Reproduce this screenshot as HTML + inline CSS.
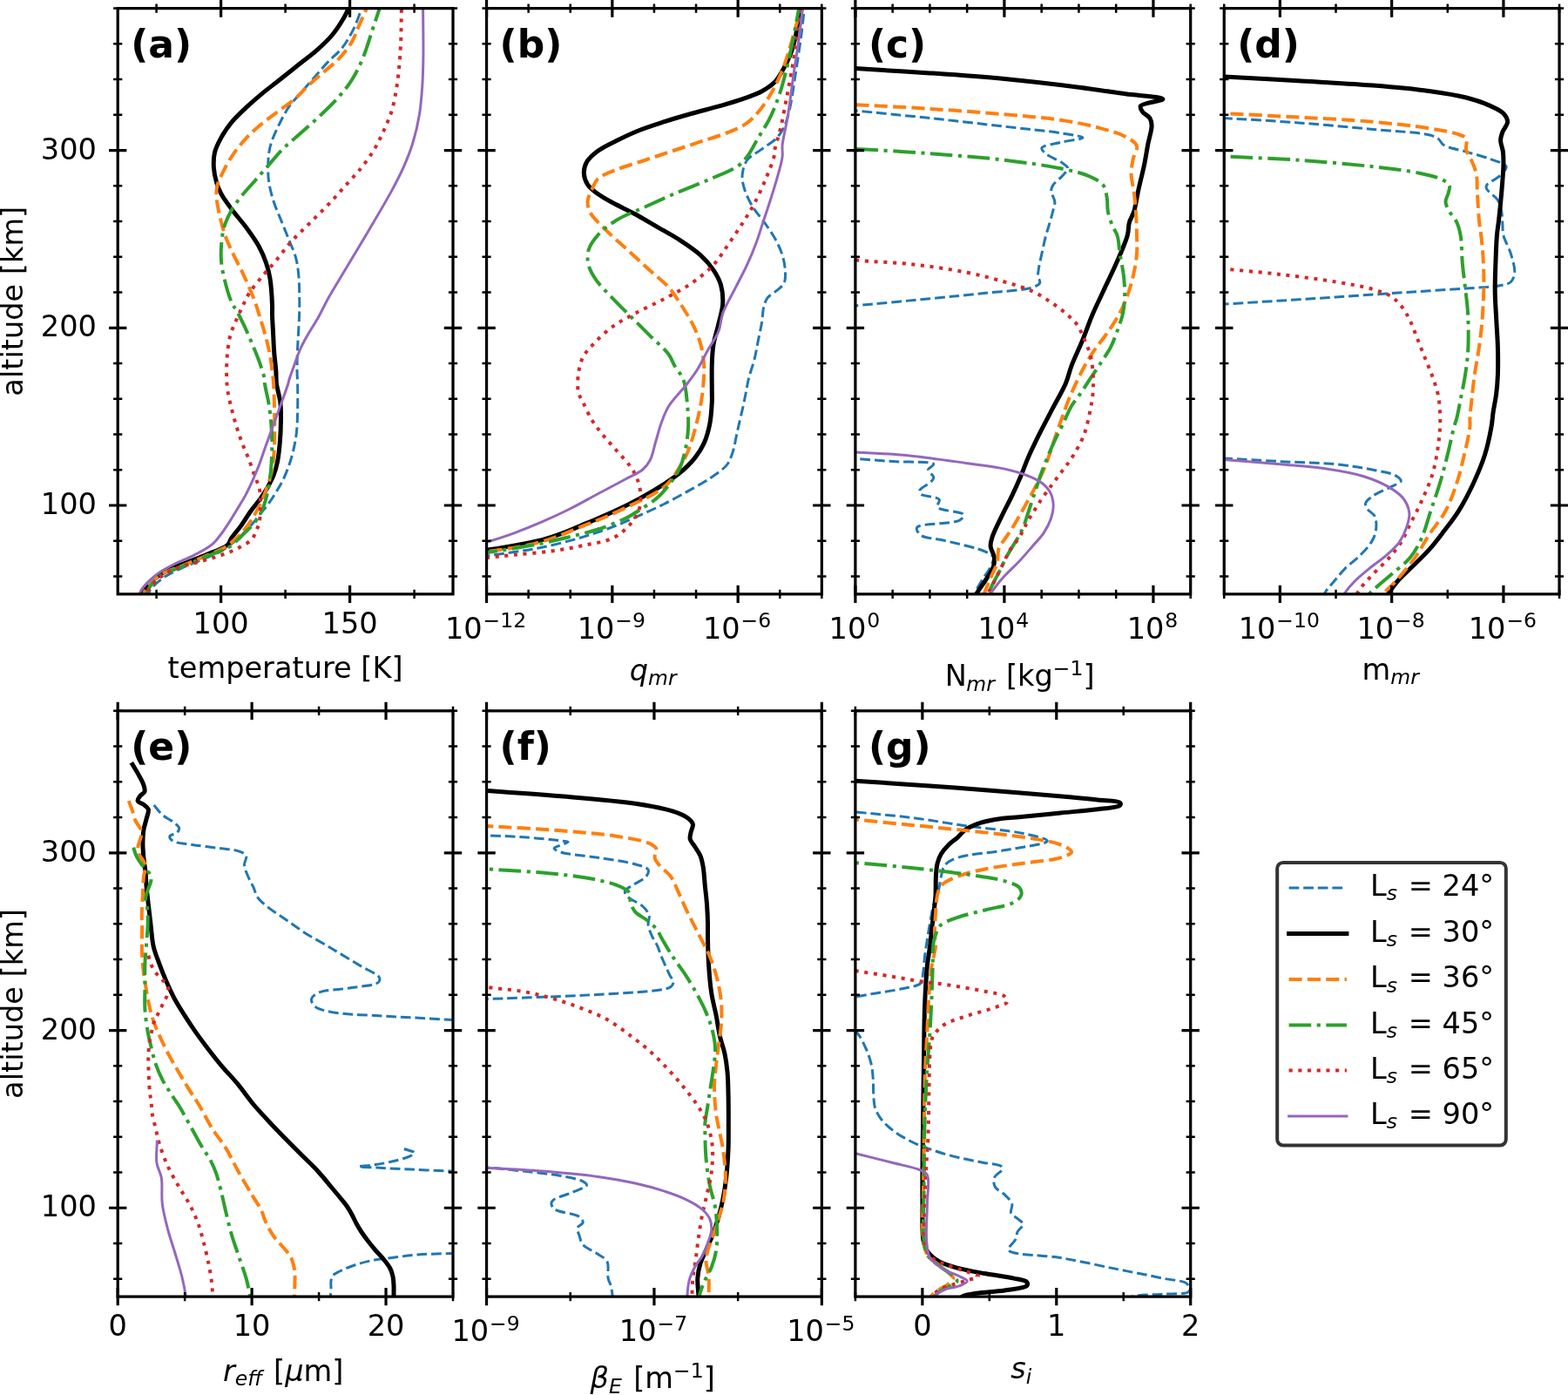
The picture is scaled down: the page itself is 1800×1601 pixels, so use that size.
<!DOCTYPE html><html><head><meta charset="utf-8"><title>Cloud profiles</title>
<style>html,body{margin:0;padding:0;background:#fff;overflow:hidden}svg{display:block}text{fill:#000}</style></head><body>
<svg xmlns="http://www.w3.org/2000/svg" width="1800" height="1601" viewBox="0 0 1800 1601">
<rect x="0" y="0" width="1800" height="1601" fill="#fff"/>
<g font-family="&quot;DejaVu Sans&quot;, &quot;Liberation Sans&quot;, sans-serif" font-size="33.6">
<defs>
<clipPath id="ca"><rect x="135.2" y="9.6" width="384.8" height="672.25"/></clipPath>
<clipPath id="cb"><rect x="558.55" y="9.6" width="384.8" height="672.25"/></clipPath>
<clipPath id="cc"><rect x="981.9" y="9.6" width="384.8" height="672.25"/></clipPath>
<clipPath id="cd"><rect x="1405.25" y="9.6" width="384.8" height="672.25"/></clipPath>
<clipPath id="ce"><rect x="135.2" y="815.85" width="384.8" height="672.25"/></clipPath>
<clipPath id="cf"><rect x="558.55" y="815.85" width="384.8" height="672.25"/></clipPath>
<clipPath id="cg"><rect x="981.9" y="815.85" width="384.8" height="672.25"/></clipPath>
</defs>
<g clip-path="url(#ca)" fill="none" stroke-linejoin="round">
<path d="M419.2 0C417.73 3.63 416.51 6.64 414.8 10.9C412.38 16.94 409.64 25.64 406.1 32.8C402.42 40.25 398.16 48.11 393 54.7C387.93 61.18 381.04 66.19 375.5 72.1C370.12 77.83 365.3 83.77 360.2 89.6C355.1 95.43 349.79 101.45 344.9 107.1C340.35 112.36 335.73 116.76 331.8 122.4C327.64 128.37 324.11 135.46 320.8 142.1C317.56 148.59 314.16 155.82 312.1 161.8C310.47 166.54 309.54 170.18 308.8 174.9C307.96 180.28 307.7 186.57 307.7 192.4C307.7 198.23 307.85 203.79 308.8 209.9C309.88 216.82 311.97 224.5 314.3 231.7C316.68 239.07 320.08 246.3 323 253.6C325.92 260.9 328.99 268.39 331.8 275.5C334.45 282.21 337.58 288.46 339.4 295.1C341.18 301.57 341.96 307.37 342.7 314.8C343.65 324.32 343.72 339 343.8 347.6C343.85 353.18 343.77 356.3 343.6 361.4C343.39 367.76 342.87 375.67 342.5 382.8C342.13 389.93 341.65 397.06 341.4 404.2C341.15 411.33 340.93 419.17 341 425.6C341.06 430.87 341.48 434.19 341.6 440C341.78 448.88 341.87 463.6 341.6 473.7C341.38 481.96 341.16 489.26 340.4 496.2C339.74 502.26 338.81 507.5 337.6 513.1C336.38 518.76 335.01 524.17 333.1 530C330.97 536.49 328.17 543.98 325.2 550.2C322.48 555.9 319.29 560.99 316.2 566C313.28 570.73 310.4 575.17 307.2 579.5C304.03 583.8 300.27 587.97 297.1 591.9C294.24 595.43 292.32 598.29 289 602C284.46 607.07 277.79 614 271.9 619.1C266.37 623.89 261.18 628.12 254.8 631.9C247.79 636.06 239.34 639.1 231.3 642.6C222.95 646.24 213.46 649.5 205.6 653.3C198.6 656.68 192.05 659.65 186.3 664C180.68 668.25 173.86 673.96 171.4 679C169.62 682.65 170.47 686.33 170 690" stroke="#1f77b4" stroke-width="3.0" stroke-dasharray="11.7 4.9"/>
<path d="M404.5 0C403 3.33 401.57 6.68 400 10C398.41 13.35 397.23 16.18 395 20C391.72 25.61 386.59 33.85 381.5 40C376.45 46.11 370.76 51.31 364.6 56.8C357.92 62.76 350 68.47 342.7 74.3C335.4 80.13 327.91 86.18 320.8 91.8C314.1 97.09 307.48 101.91 301.2 107.1C295.13 112.12 289.44 117.03 283.7 122.4C277.77 127.94 271.25 133.82 266.2 139.9C261.53 145.53 257.54 151.41 254.2 157.4C251.03 163.09 247.95 168.93 246.5 174.9C245.11 180.61 245.04 186.59 245.4 192.4C245.76 198.26 247.1 204.57 248.7 209.9C250.13 214.66 251.72 218.45 254.2 223C257.23 228.56 261.7 234.43 266.2 240.5C271.37 247.48 278.43 255.19 283.7 262.4C288.54 269.01 293.11 275.29 296.8 282C300.32 288.41 303.28 295.23 305.5 301.7C307.53 307.62 308.78 312.51 309.9 319.2C311.36 327.93 312.17 342.02 312.5 349.8C312.7 354.58 312.39 356.95 312.5 361.4C312.66 367.45 313.23 375.67 313.6 382.8C313.97 389.93 314.17 397.07 314.7 404.2C315.23 411.34 316.35 419.17 316.8 425.6C317.17 430.87 316.76 434.69 317.4 440C318.2 446.69 321.07 454.96 321.9 462.5C322.72 469.96 322.5 477.5 322.4 485C322.3 492.5 321.95 500.01 321.3 507.5C320.65 515.01 319.88 523.22 318.5 530C317.32 535.75 315.94 540.75 314 545.7C312.14 550.46 309.66 554.85 307.2 559.2C304.78 563.48 302.36 567.37 299.4 571.6C296.08 576.35 291.77 581.08 288.1 586.2C284.26 591.56 280.74 597.74 276.9 603.1C273.23 608.22 268.39 613.5 265.6 617.7C263.66 620.62 263.83 623.09 261.2 625.5C256.73 629.6 245.39 632.91 237.7 636.2C230.44 639.31 223.44 641.95 216.3 644.8C209.17 647.65 201.49 649.96 194.9 653.3C188.73 656.42 182.65 660.14 177.8 664C173.6 667.35 169.76 671.47 167.1 674.7C165.2 677.01 163.81 678.68 162.8 681.1C161.7 683.73 161.6 687.03 161 690" stroke="#000000" stroke-width="5.0" stroke-linecap="square"/>
<path d="M425.1 0C420.93 9.47 416.39 19.8 412.6 28.4C409.44 35.57 407.69 41.76 403.9 48.1C399.83 54.93 394.18 61.89 388.6 67.8C383.21 73.51 376.93 78 371.1 83.1C365.27 88.2 359.15 93.21 353.6 98.4C348.24 103.41 343.75 108.98 338.3 113.7C332.82 118.45 326.63 122.43 320.8 126.8C314.97 131.17 309.19 135.08 303.3 139.9C296.84 145.19 289.8 150.96 283.7 157.4C277.4 164.05 271.22 171.79 266.2 179.3C261.47 186.38 257.2 194.65 254.2 201.1C251.93 205.96 250 209.83 249.1 214.3C248.23 218.6 248.32 222.4 248.7 227.4C249.22 234.22 251.24 243.63 253.1 251.4C254.9 258.92 257 266.29 259.6 273.3C262.12 280.1 265.24 286.22 268.4 292.9C271.77 300.03 275.95 307.66 279.3 314.8C282.45 321.5 285.63 328.88 288 334.5C289.75 338.65 290.94 341.39 292.4 345.4C294.14 350.2 295.81 355.67 297.6 361.4C299.66 368 302.04 375.64 304 382.8C305.94 389.91 307.88 397.03 309.3 404.2C310.71 411.3 311.68 419.16 312.5 425.6C313.17 430.87 313.6 434.19 314 440C314.61 448.87 314.92 462.46 315.1 473.7C315.28 484.96 315.52 496.76 315.1 507.5C314.72 517.31 314.11 527.79 312.9 535.6C312.02 541.3 310.84 545.46 309.5 550.2C308.2 554.82 306.84 558.92 305 563.7C302.84 569.32 299.98 575.97 297.1 581.7C294.33 587.21 291.45 592.45 288.1 597.5C284.73 602.58 280 608.61 276.9 612.1C274.99 614.26 274 615.11 271.9 617C268.66 619.92 264.27 624.37 259.1 627.6C252.64 631.64 243.55 634.79 235.5 638.3C227.17 641.93 218.06 645.65 209.9 649C202.46 652.05 194.82 654.14 188.5 657.6C182.85 660.69 177.4 664.37 173.5 668.3C170.22 671.61 167.58 675.23 166 679C164.54 682.49 164.67 686.33 164 690" stroke="#ff7f0e" stroke-width="4.0" stroke-dasharray="15.1 6.2"/>
<path d="M439 0C435.33 10.93 431.67 21.87 428 32.8C424.33 43.73 421.23 55.42 417 65.6C413.11 74.97 408.87 83.91 403.9 91.8C399.31 99.08 394.39 104.94 388.6 111.5C382.15 118.81 374.09 126.4 366.7 133.4C359.51 140.21 351.99 146.66 344.9 153C338.18 159.01 331.4 164.3 325.2 170.5C319 176.7 313.33 183.82 307.7 190.2C302.42 196.2 297.5 201.87 292.4 207.7C287.3 213.53 281.64 219.45 277.1 225.2C273.02 230.37 269.4 234.9 266.2 240.5C262.77 246.5 259.4 253.5 257.4 260.2C255.47 266.64 254.75 273.14 254.2 279.9C253.63 286.96 253.43 294.14 254.2 301.7C255.05 310.07 257.43 319.85 259.6 327.9C261.51 335 263.77 342.32 266.2 347.6C267.98 351.45 269.88 353.43 271.9 357.1C274.56 361.93 277.71 368.29 280.5 374.2C283.42 380.4 286.21 386.88 289 393.5C291.92 400.43 295.09 407.71 297.6 414.9C300.07 421.98 303.44 432.08 304 436.3C304.23 438.02 303.75 438.26 303.9 440C304.27 444.34 307.18 454.98 308.4 462.5C309.61 469.98 310.55 477.49 311.2 485C311.85 492.49 312.22 500 312.3 507.5C312.38 515 312.17 522.51 311.7 530C311.23 537.51 310.53 545.56 309.5 552.5C308.6 558.56 307.59 563.82 306.1 569.4C304.59 575.06 302.96 580.92 300.5 586.2C298.08 591.41 294.97 596.52 291.5 600.9C288.17 605.11 283.47 608.82 280.2 612.1C277.67 614.64 276.02 616.55 273.5 618.9C270.51 621.68 267.74 624.87 263.3 627.6C256.92 631.52 246.24 634.74 237.7 638.3C229.14 641.87 220.18 645.65 212 649C204.55 652.05 196.68 654.4 190.6 657.6C185.63 660.21 181.36 662.54 177.8 666.1C174.22 669.67 170.77 674.68 169.2 679C167.87 682.65 168.4 686.33 168 690" stroke="#2ca02c" stroke-width="4.0" stroke-dasharray="25.6 6.5 4.1 6.5"/>
<path d="M461.1 0C461 5.1 460.91 9.42 460.8 15.3C460.65 23.31 460.67 34.24 460.3 43.7C459.93 53.17 459.43 62.64 458.6 72.1C457.77 81.6 456.81 91.33 455.3 100.6C453.85 109.55 452.28 118.56 449.8 126.8C447.47 134.53 444.33 141.48 441.1 148.7C437.81 156.05 434.44 163.38 430.2 170.5C425.76 177.96 420.39 185.45 414.9 192.4C409.45 199.31 403.42 205.38 397.4 212.1C391.04 219.2 384.53 226.71 377.7 233.9C370.68 241.28 363.09 248.5 355.8 255.8C348.52 263.1 340.69 270.23 334 277.7C327.64 284.81 322.21 292.69 316.5 299.5C311.3 305.71 306.21 310.92 301.2 317C296.01 323.3 289.74 330.63 285.9 336.7C282.96 341.36 281.53 345.2 279.3 349.8C276.87 354.83 274.29 360.11 271.9 365.7C269.31 371.76 266.19 378.4 264.4 384.9C262.66 391.24 261.92 397.58 261.2 404.2C260.45 411.13 260.11 418.49 260.1 425.6C260.09 432.66 260.2 439.68 261.1 446.7C262.01 453.84 263.9 461.09 265.6 468.1C267.27 474.98 269.14 481.67 271.2 488.4C273.27 495.17 275.53 502 278 508.6C280.43 515.1 283.46 521.29 285.9 527.7C288.32 534.06 290.53 541.38 292.6 546.9C294.2 551.15 296.06 554.41 297.1 558.1C298.06 561.5 298.51 564.73 298.8 568.2C299.1 571.85 298.92 575.19 298.8 579.5C298.64 585.26 298.9 594.18 297.7 599.7C296.82 603.76 295.15 606.64 293.7 609.9C292.31 613.03 291.75 616.09 289.2 618.9C285.57 622.91 278.13 626.63 271.9 629.8C265.29 633.16 258.02 635.71 250.5 638.3C242.39 641.09 233.36 643.3 224.8 645.8C216.26 648.3 206.68 649.94 199.2 653.3C192.7 656.22 187.12 659.69 182.1 664C177.13 668.27 171.6 674.07 169.2 679C167.39 682.71 167.73 686.33 167 690" stroke="#d62728" stroke-width="4.0" stroke-dasharray="4.1 6.6"/>
<path d="M485.6 0C485.6 3.33 485.59 5.32 485.6 10C485.63 21.04 486.13 49.5 485.9 65.6C485.73 77.97 485.53 87.48 484.8 98.4C484.07 109.35 483.3 120.32 481.5 131.2C479.68 142.19 477.09 153.57 473.9 164C470.86 173.92 467.06 183.22 463 192.4C459.01 201.41 455.26 208.5 449.8 218.6C442.02 232.97 428.29 255.95 420 270C414.19 279.84 410 286.67 405 295C400 303.33 394.81 311.93 390 320C385.5 327.56 381.15 334.53 377 342C372.82 349.53 369.03 357.87 365 365C361.36 371.43 357.4 377.03 354 383C350.76 388.7 347.69 394.01 345 400C342.16 406.31 339.8 413.67 337.5 420C335.44 425.67 332.84 432.66 331.8 436.2C331.3 437.89 331.42 438.22 330.9 440C329.61 444.39 325.74 454.83 323 462.5C320.12 470.55 317 478.96 314 487.2C311 495.46 307.88 503.93 305 512C302.26 519.68 299.59 527.98 297.1 534.5C295.15 539.6 293.65 543.14 291.5 548C288.91 553.84 285.83 560.81 282.5 567.1C279.08 573.55 274.99 579.95 271.2 586.2C267.49 592.31 264.23 598.16 260 604.2C255.37 610.82 250.55 618.68 244.3 624.2C238.05 629.72 229.89 633.43 222.5 637.3C215.32 641.07 207.42 643.76 200.6 647.2C194.37 650.35 188.36 653.38 183.1 657C178.25 660.33 173.77 664.06 170 667.9C166.57 671.39 163.21 675.01 161.2 678.9C159.38 682.42 159.07 686.3 158 690" stroke="#9467bd" stroke-width="3.0" stroke-linecap="square"/>
</g>
<g clip-path="url(#cb)" fill="none" stroke-linejoin="round">
<path d="M926.7 0C925.73 3.2 924.7 5.39 923.8 9.6C922.15 17.29 921.14 31.04 919.5 42.8C917.63 56.17 915.29 71.72 913.1 85.6C911.02 98.78 909.25 113.21 906.7 124.1C904.77 132.35 903.05 139.45 900.2 145.5C897.84 150.51 895.45 154.33 891.7 158.3C887.28 162.98 880.3 166.82 874.6 171.1C868.9 175.39 861.25 178.69 857.5 184C854.07 188.86 852.54 195.55 852.1 201.1C851.69 206.19 852.74 210.72 854.3 216C856.23 222.55 860.06 230.63 863.9 237.1C867.58 243.31 872.52 248.27 876.7 254.2C881.06 260.38 885.88 266.92 889.5 273.5C892.95 279.77 896.12 286.37 898.1 292.7C899.9 298.46 900.99 304.27 901.3 309.8C901.59 314.94 902.04 320.75 900.2 324.8C898.55 328.43 894.79 330.63 891.7 333.4C888.42 336.34 883.52 338.52 881 341.9C878.68 345.01 877.75 348.54 876.7 352.6C875.42 357.56 875.57 363.7 874.6 369.7C873.51 376.45 871.73 383.97 870.3 391.1C868.87 398.23 867.77 405.41 866 412.5C864.21 419.67 861.25 427.24 859.6 433.9C858.18 439.61 857.47 444.67 856.4 450C855.34 455.27 854.49 459.73 853.2 465.7C851.47 473.66 848.93 484.23 846.8 493.5C844.67 502.77 843.07 513.94 840.4 521.3C838.5 526.52 837.26 530.02 833.9 534.1C829.52 539.42 821.74 544.33 814.7 549.1C806.92 554.38 797.78 559.19 789 564.1C779.96 569.16 770.53 574.34 761.2 579C752 583.6 742.87 587.68 733.4 591.9C723.65 596.25 714.19 600.64 703.5 604.7C691.56 609.23 678.25 613.65 665 617.5C651.18 621.52 635.49 625.42 622.2 628.2C610.78 630.58 600.81 631.98 590.1 633.6C579.41 635.21 568.34 636.64 558 637.9C548.35 639.08 539.33 639.97 530 641" stroke="#1f77b4" stroke-width="3.0" stroke-dasharray="11.7 4.9"/>
<path d="M921.3 0C920.33 3.2 919.37 5.4 918.4 9.6C916.63 17.3 915.34 33.01 913.1 42.8C911.28 50.78 909.33 57.57 906.7 64.2C904.26 70.33 901.14 76.1 898.1 81.3C895.37 85.97 893.17 90.31 889.5 94.1C885.49 98.23 880.22 101.71 874.6 104.8C868.29 108.27 860.86 110.69 853.2 113.4C844.6 116.44 835.02 119.14 825.4 121.9C815.11 124.85 803.98 127.47 793.3 130.5C782.58 133.54 771.48 136.79 761.2 140.1C751.57 143.2 742.4 146.09 733.4 149.7C724.58 153.24 715.8 157.41 707.7 161.5C700.17 165.3 692.26 168.82 686.3 173.3C681.17 177.16 676.14 181.44 673.5 186.1C671.25 190.08 670.14 194.65 670.3 198.9C670.47 203.22 672.12 207.98 674.6 211.8C677.28 215.93 681.84 219.18 686.3 222.5C691.32 226.24 697.13 229.29 703.5 232.8C711.12 236.99 720.63 241.11 729.1 245.7C737.73 250.37 746.24 255.62 754.8 260.6C763.37 265.59 772.26 270.21 780.5 275.6C788.65 280.92 797.32 286.61 804 292.7C809.91 298.09 815 303.82 819 309.8C822.68 315.29 825.71 320.79 827.5 327C829.39 333.56 830.09 340.9 829.7 348.3C829.27 356.5 826.17 365.84 824.3 374C822.59 381.48 820.17 388.22 819 395.4C817.85 402.49 817.61 408.88 817.3 416.8C816.91 426.65 817.3 441.82 817.3 450C817.3 454.79 817.53 456.85 817.3 461.4C816.95 468.26 816.31 479.01 814.7 487.1C813.21 494.61 811.25 501.86 808.3 508.4C805.48 514.64 801.96 520.11 797.6 525.6C792.84 531.59 786.77 537.45 780.5 542.7C773.99 548.15 766.66 552.77 759.1 557.6C751.02 562.76 742.37 567.74 733.4 572.6C723.89 577.76 713.55 582.94 703.5 587.6C693.58 592.2 683.12 596.34 673.5 600.4C664.61 604.15 656.42 607.86 647.8 611.1C639.31 614.29 631.3 617.28 622.2 619.7C612.18 622.37 600.82 624.15 590.1 626.1C579.42 628.05 568.35 629.88 558 631.4C548.36 632.81 539.33 633.8 530 635" stroke="#000000" stroke-width="5.0" stroke-linecap="square"/>
<path d="M922.4 0C921.43 3.2 920.64 5.72 919.5 9.6C917.76 15.52 915.4 24.07 913.1 32.1C910.45 41.36 907.52 52.67 904.5 62C901.79 70.38 899.25 78.02 896 85.6C892.83 93 889.27 100.18 885.3 107C881.39 113.7 877.16 120.4 872.4 126.2C867.85 131.75 863.31 137 857.5 141.2C851.32 145.67 844.08 148.59 836.1 151.9C826.6 155.83 814.7 159.03 804 162.6C793.3 166.17 782.6 169.73 771.9 173.3C761.2 176.87 750.5 180.43 739.8 184C729.1 187.57 717.2 190.79 707.7 194.7C699.72 197.99 691 200.89 686.3 205.3C682.86 208.53 681.78 212.33 679.9 216.4C677.82 220.92 674.84 226.48 674.6 231.3C674.38 235.72 675.47 239.77 677.8 244.2C681.05 250.36 688.44 256.84 694.9 263.4C702.43 271.05 712.04 279.14 720.6 287C729.14 294.84 738.03 303.08 746.2 310.5C753.63 317.25 761.43 322.75 767.6 329.7C773.48 336.33 777.92 343.88 782.6 351.1C787.17 358.15 791.79 365.22 795.4 372.5C798.87 379.5 802 387.19 804 393.9C805.69 399.56 806.48 405.08 807.2 410C807.81 414.11 808.23 416.63 808.3 421.4C808.41 429.39 807.52 442.85 806.1 453.5C804.67 464.25 802.46 474.8 799.7 485.6C796.82 496.9 793.12 510.21 789 519.8C785.77 527.31 782.04 533.09 778.3 539C774.88 544.41 772 549.5 767.6 554C762.86 558.85 756.71 562.97 750.5 566.8C743.93 570.85 736.98 573.69 729.1 577.5C719.51 582.14 707.76 587.84 697 592.5C686.39 597.1 675.67 601.02 665 605.3C654.31 609.59 643.71 614.61 632.9 618.2C622.31 621.72 612.34 624.3 600.8 626.7C587.63 629.44 572.27 631.03 558 633.2" stroke="#ff7f0e" stroke-width="4.0" stroke-dasharray="15.1 6.2"/>
<path d="M920.3 0C919.33 3.2 918.44 5.4 917.4 9.6C915.5 17.31 913.38 31.34 911 42.8C908.43 55.18 905.46 69.32 902.4 81.3C899.68 91.94 897.13 101.7 893.8 111.2C890.65 120.19 887.15 128.86 883.1 136.9C879.27 144.51 874.56 151.14 870.3 158.3C866.02 165.5 861.96 174.25 857.5 180C854.05 184.46 851.72 187.25 846.8 190.7C839.27 195.98 825.8 200.84 814.7 205.7C803.01 210.82 790.56 215.35 778.3 220.6C765.6 226.03 752.03 232.23 739.8 237.8C728.59 242.9 717.02 246.93 707.7 252.7C699.5 257.78 691.83 263.58 686.3 269.8C681.55 275.15 677.31 281.02 675.6 287C674.03 292.49 674.28 298.55 675.6 304.1C676.99 309.97 680.27 315.45 684.2 321.2C689.03 328.26 696.82 335.55 703.5 342.6C710.34 349.82 717.68 356.88 724.8 364C731.92 371.12 739.07 378.19 746.2 385.3C753.34 392.42 762.84 400.23 767.6 406.7C770.81 411.07 771.51 414.51 774 418.9C777.04 424.25 782.21 429.61 784.7 436.4C787.61 444.35 788.1 455.1 789 464.2C789.86 472.89 790.45 481.27 790.1 489.8C789.75 498.37 788.6 507.39 786.9 515.5C785.32 523.03 783.46 530.35 780.5 536.9C777.68 543.13 773.92 548.46 769.8 554C765.42 559.88 760.09 566.31 754.8 571.1C750.04 575.41 745.32 578.18 739.8 581.8C733.37 586.02 726.44 590.71 718.4 594.7C708.95 599.39 697.1 603.93 686.3 607.5C675.73 611 665 613.33 654.3 616C643.63 618.66 633.7 621.15 622.2 623.5C608.99 626.2 591.23 629.08 579.4 631C571.05 632.36 565.13 633.13 558 634.2" stroke="#2ca02c" stroke-width="4.0" stroke-dasharray="25.6 6.5 4.1 6.5"/>
<path d="M923.5 0C922.53 3.2 921.57 5.4 920.6 9.6C918.82 17.3 917.09 31.33 915.2 42.8C913.17 55.16 911 68.86 908.8 81.3C906.72 93.05 904.57 104.29 902.4 115.5C900.3 126.38 898.34 137.77 896 147.6C893.98 156.08 890.66 165.1 889.5 171.1C888.8 174.74 889.38 176.33 888.5 180C886.97 186.42 882.52 197.04 878.9 205.7C875.07 214.86 870.53 224.95 866 233.5C861.92 241.21 857.88 247.51 853.2 254.9C848 263.11 841.88 272.19 836.1 280.5C830.48 288.58 825.81 296.82 819 304.1C811.71 311.9 802.5 319.12 793.3 325.5C783.95 331.98 773.71 337.04 763.3 342.6C752.35 348.45 739.59 354.01 729.1 359.7C719.86 364.71 711.38 368.94 703.5 374.7C695.74 380.37 688.12 387.53 682.1 393.9C677 399.29 672.24 404.02 669.2 410C666.19 415.93 664.78 422.94 663.9 429.6C663.01 436.27 662.64 444.3 663.9 450C664.89 454.48 667.09 457.02 669.2 461.4C672.11 467.44 675.83 476.24 679.9 482.8C683.75 489.01 688.24 494.28 692.8 499.9C697.49 505.68 702.72 511.3 707.7 517C712.69 522.7 718.61 528.38 722.7 534.1C726.26 539.09 729.19 543.61 731.3 549.1C733.55 554.95 735.21 562.05 735.5 568.3C735.78 574.17 735.35 579.98 733.4 585.5C731.29 591.45 727.35 597.46 722.7 602.6C717.6 608.24 711.3 613.71 703.5 617.5C694.1 622.07 680.84 623.62 669.2 626.1C657.32 628.63 645.53 630.75 632.9 632.5C619.25 634.39 603.34 635.47 590.1 636.8C578.63 637.95 568.34 639.12 558 640C548.35 640.83 539.33 641.33 530 642" stroke="#d62728" stroke-width="4.0" stroke-dasharray="4.1 6.6"/>
<path d="M924.5 0C923.53 3.2 922.5 5.39 921.6 9.6C919.96 17.29 919.02 31.04 917.4 42.8C915.55 56.17 913.1 70.99 911 85.6C908.8 100.89 906.84 118.2 904.5 132.6C902.49 144.93 898.91 158.03 898.1 166.8C897.6 172.2 898.72 174.92 898.1 180C897.22 187.2 894.13 197 891.7 205.7C889.16 214.82 885.8 225.1 883.1 233.5C880.85 240.5 878.98 245.83 876.7 252.7C874.06 260.64 871.37 269.89 868.2 278.4C864.98 287.03 861.4 295.61 857.5 304.1C853.54 312.71 849.04 320.82 844.6 329.7C839.8 339.3 833 350.49 829.7 359.7C827.1 366.96 827.62 373.29 825 380C822.11 387.4 816.63 394.57 812.5 402C808.3 409.56 804.42 418.05 800 425C796.03 431.24 792.24 435.9 787.5 442C781.72 449.45 772.49 458.34 767.6 466.3C763.59 472.83 761.56 478.92 759.1 485.6C756.57 492.47 754.85 499.88 752.7 507C750.55 514.11 749.18 522.63 746.2 528.3C743.87 532.74 741.52 535.77 737.7 539C732.85 543.11 725.67 545.75 718.4 549.7C709.07 554.77 696.99 561.08 686.3 566.8C675.62 572.52 665.05 578.62 654.3 584C643.69 589.31 632.96 594.24 622.2 598.9C611.56 603.5 600.86 607.85 590.1 611.8C579.46 615.71 568.36 619.2 558 622.5C548.37 625.57 539.33 628.17 530 631" stroke="#9467bd" stroke-width="3.0" stroke-linecap="square"/>
</g>
<g clip-path="url(#cc)" fill="none" stroke-linejoin="round">
<path d="M940 123C954 124.33 965.54 125.39 982 127C1005.51 129.3 1039.08 132.57 1067.6 135.6C1096.12 138.63 1126.64 142.17 1153.1 145.2C1176.03 147.83 1200.76 150.03 1217.3 152.7C1227.84 154.4 1243 156.22 1243 158C1243 159.78 1225.43 161.33 1217.3 163.4C1209.8 165.31 1197 166.72 1195.9 169.8C1195.25 171.61 1197.89 174.07 1200.2 176.2C1204.1 179.79 1214.85 183.49 1219.4 186.9C1222.33 189.1 1225.73 190.93 1225.9 193.3C1226.09 195.88 1221.95 198.97 1219.4 201.9C1216.38 205.37 1210.76 209.25 1208.7 212.6C1207.33 214.83 1206.59 216.5 1206.6 219C1206.61 222.54 1210.65 227.69 1210.9 231.8C1211.12 235.49 1209.63 238.65 1208.7 242.5C1207.59 247.1 1205.93 252.54 1204.5 257.5C1203.09 262.4 1201.55 266.87 1200.2 272.1C1198.66 278.06 1197.22 285.37 1195.9 291.4C1194.74 296.71 1193.42 301.8 1192.7 306.4C1192.09 310.25 1191.3 313.89 1191.6 317.1C1191.85 319.82 1194.57 322.45 1193.8 324.5C1192.91 326.85 1189.54 328.36 1185.2 329.9C1175.2 333.44 1150.35 334.25 1131.7 336.3C1111.31 338.54 1090.51 340.46 1067.6 342.7C1041.13 345.29 1003.65 348.81 982 350.9C968.76 352.18 957.43 345.81 950 354C932.91 372.83 932.88 505.55 950 524C957.44 532.01 970.56 525.54 982 526.4C995.23 527.39 1010.2 528.56 1024.8 529.6C1040.1 530.69 1070.41 529.09 1071.8 532.8C1072.41 534.43 1065.57 536.83 1065.4 539.2C1065.21 541.78 1071.68 545.24 1071.8 547.8C1071.89 549.74 1070.28 551.25 1068.6 553.1C1065.91 556.08 1056.82 559.81 1055.8 562.7C1055.26 564.22 1055.67 565.72 1056.9 567C1059.67 569.88 1076.26 569.79 1078.3 573.4C1079.59 575.68 1074.72 579.6 1076.1 582C1078.68 586.49 1104.68 586.67 1106.1 590.5C1106.81 592.42 1104.66 595.13 1101.8 597C1094.56 601.73 1055.33 600.1 1052.6 605.5C1051.4 607.87 1054.02 611.83 1056.9 614.1C1061.87 618.01 1074.25 617.88 1084.7 620.5C1098.35 623.93 1122.54 628.84 1131.7 633.3C1136 635.39 1139.38 636.77 1140.3 639.7C1141.34 643 1138.03 648.44 1136 652.6C1133.84 657.02 1130.15 660.98 1127.5 665.4C1124.81 669.88 1121.79 674.87 1120 679.3C1118.5 683.01 1118 686.43 1117 690" stroke="#1f77b4" stroke-width="3.0" stroke-dasharray="11.7 4.9"/>
<path d="M940 76.3C954 77.07 965.54 77.64 982 78.6C1005.51 79.97 1039.08 81.9 1067.6 83.9C1096.12 85.9 1124.62 87.87 1153.1 90.6C1181.65 93.34 1213.52 97.11 1238.7 100.3C1258.64 102.83 1275.37 105.46 1292.2 107.8C1307.23 109.89 1334.67 110.94 1334.9 113.7C1335.08 115.87 1311.22 117.97 1309.3 121.7C1308.34 123.57 1310.05 126.06 1311.4 128.1C1313.16 130.76 1318.24 132.71 1320 135.6C1321.55 138.13 1322.02 140.61 1322.1 144.1C1322.22 149.6 1319.19 158.19 1317.8 165.5C1316.35 173.14 1315.28 180.86 1313.6 189C1311.77 197.9 1309.1 207.7 1307.1 216.8C1305.18 225.52 1303.98 235.5 1301.8 242.5C1300.22 247.59 1297.65 250.8 1296.4 255.3C1295.11 259.95 1295.83 264.26 1294.3 270C1291.97 278.75 1286.1 291.47 1281.5 302.1C1276.84 312.87 1271.29 323.88 1266.5 334.2C1262.05 343.79 1257.64 352.67 1253.7 362C1249.81 371.2 1246.83 380.4 1243 389.8C1238.99 399.62 1233.55 410.63 1230.1 419.7C1227.31 427.05 1226.44 432.82 1223.4 440C1219.7 448.75 1213.59 458.73 1208.7 468.1C1203.82 477.46 1198.8 486.79 1194.1 496.2C1189.43 505.55 1184.52 515.47 1180.6 524.4C1177.15 532.26 1174.77 539.43 1171.6 546.9C1168.4 554.43 1165.05 561.94 1161.5 569.4C1157.92 576.94 1153.88 584.19 1150.2 591.9C1146.38 599.9 1141.06 610.04 1139 616.6C1137.72 620.68 1136.85 623.31 1137.1 626.9C1137.39 630.97 1140.94 635.58 1141.4 639.7C1141.81 643.38 1141.5 646.67 1140.3 650.4C1138.78 655.13 1134.82 660.37 1131.7 665.4C1128.41 670.7 1123.59 676.8 1121 681.4C1119.18 684.63 1118.33 687.13 1117 690" stroke="#000000" stroke-width="5.0" stroke-linecap="square"/>
<path d="M940 118.5C954 119.07 965.54 119.41 982 120.2C1005.51 121.32 1039.08 123.05 1067.6 124.9C1096.12 126.75 1126.65 128.99 1153.1 131.3C1176.04 133.3 1198.13 134.83 1217.3 137.7C1233.07 140.06 1246.96 142.8 1260.1 146.3C1271.67 149.38 1284.21 152.57 1292.2 157C1297.8 160.11 1303.65 163.24 1305 167.6C1306.31 171.82 1301.76 177.39 1300.7 182.6C1299.59 188.07 1298.52 193.69 1298.6 199.7C1298.69 206.44 1300.92 213.96 1301.8 221.1C1302.68 228.22 1303.38 234.91 1303.9 242.5C1304.49 251.08 1304.83 261.41 1305 270C1305.15 277.58 1305.62 283.97 1305 291.4C1304.32 299.6 1302.74 308.43 1300.7 317.1C1298.54 326.25 1295.61 336.37 1292.2 344.9C1289.11 352.64 1285.47 359.48 1281.5 366.3C1277.59 373 1272.97 379.34 1268.6 385.5C1264.4 391.42 1259.91 396.47 1255.8 402.6C1251.36 409.23 1247.18 416.19 1243 424C1238.22 432.94 1233 444.14 1229 453.5C1225.48 461.73 1222.75 469.63 1220 477.1C1217.53 483.79 1215.42 489.72 1213.2 496.2C1210.92 502.85 1208.78 509.85 1206.5 516.5C1204.28 522.98 1202.19 529.48 1199.7 535.6C1197.31 541.46 1194.77 546.74 1191.9 552.5C1188.81 558.72 1185.12 565.35 1181.7 571.6C1178.36 577.71 1175.08 583.53 1171.6 589.6C1167.99 595.89 1163.91 603.22 1160.4 608.7C1157.63 613.02 1154.9 616.43 1152.5 620C1150.39 623.15 1148.02 625.34 1146.7 629C1145.02 633.64 1146.07 640.69 1144.6 646.1C1143.17 651.37 1140.39 655.71 1138.1 661.1C1135.44 667.35 1131.83 676.06 1129.6 681.4C1128.15 684.87 1127.2 687.13 1126 690" stroke="#ff7f0e" stroke-width="4.0" stroke-dasharray="15.1 6.2"/>
<path d="M940 169C954 169.63 965.54 170.02 982 170.9C1005.51 172.16 1039.09 174.07 1067.6 176.2C1096.12 178.33 1126.68 180.57 1153.1 183.7C1176.07 186.42 1199.66 189.63 1217.3 193.3C1229.92 195.93 1240.6 198.07 1249.4 201.9C1256.25 204.88 1262.97 207.92 1266.5 212.6C1269.6 216.71 1269.92 222.48 1270.8 227.5C1271.67 232.45 1270.84 237.4 1271.8 242.5C1272.85 248.08 1275.18 254.68 1277.2 259.6C1278.83 263.57 1281.15 265.78 1282.5 270C1284.34 275.74 1284.52 283.95 1285.7 291.4C1287 299.58 1289.1 308.7 1290 317.1C1290.85 325.08 1291.33 333.17 1291.1 340.6C1290.89 347.33 1290.29 353.64 1289 359.8C1287.75 365.75 1285.73 371 1283.6 377C1281.19 383.76 1278.44 391.72 1275.1 398.3C1271.95 404.49 1268.09 409.64 1264.3 415.5C1260.25 421.75 1255.76 428.29 1251.5 434.7C1247.23 441.12 1242.62 448.38 1238.7 454C1235.58 458.48 1232.78 461.2 1230 465.9C1226.48 471.83 1223.29 480.42 1220 487.2C1216.96 493.47 1213.83 499.16 1211 505.2C1208.2 511.17 1205.67 516.99 1203.1 523.2C1200.4 529.74 1197.65 536.71 1195.2 543.5C1192.78 550.21 1190.75 556.96 1188.5 563.7C1186.25 570.46 1183.95 577.24 1181.7 584C1179.45 590.74 1177.34 598.51 1175 604.2C1173.2 608.58 1171.72 611.25 1169.4 615.5C1166.24 621.28 1161.17 628.66 1157.4 635.5C1153.59 642.42 1150.26 649.69 1146.7 656.8C1143.13 663.92 1138.3 672.01 1136 678.2C1134.36 682.61 1134 686.07 1133 690" stroke="#2ca02c" stroke-width="4.0" stroke-dasharray="25.6 6.5 4.1 6.5"/>
<path d="M940 292C954 294.13 966.48 296.64 982 298.4C1001.1 300.57 1024.85 300.81 1046.2 303.2C1067.62 305.6 1091.17 308.98 1110.3 312.8C1126.09 315.95 1139.93 319.66 1153.1 323.5C1164.64 326.86 1175.79 329.88 1185.2 334.2C1193.28 337.91 1199.97 342.56 1206.6 347C1212.73 351.11 1218.56 355.33 1223.7 359.8C1228.44 363.93 1233.08 367.95 1236.5 372.7C1239.78 377.25 1241.62 382.25 1244 387.6C1246.65 393.56 1249.72 400.2 1251.5 406.9C1253.32 413.75 1254.17 421.15 1254.7 428.3C1255.23 435.41 1255.23 442.59 1254.7 449.7C1254.17 456.85 1253.05 463.48 1251.5 471.1C1249.67 480.06 1247.67 490.68 1244 500C1240.23 509.57 1233.24 521.11 1229 527.7C1226.46 531.65 1224.45 533.7 1222.2 536.7C1219.95 539.7 1217.75 542.7 1215.5 545.7C1213.25 548.7 1210.84 551.78 1208.7 554.7C1206.72 557.4 1205.07 559.89 1203.1 562.6C1200.98 565.51 1198.49 568.56 1196.4 571.6C1194.36 574.56 1192.59 577.6 1190.7 580.6C1188.82 583.6 1186.97 586.6 1185.1 589.6C1183.23 592.6 1181.2 595.56 1179.5 598.6C1177.84 601.56 1176.62 604.53 1175 607.6C1173.27 610.89 1171.66 614.17 1169.4 617.7C1166.67 621.96 1162.66 626.03 1159.5 631.2C1155.73 637.38 1152.37 645.47 1148.8 652.6C1145.23 659.73 1140.9 668.74 1138.1 674C1136.43 677.13 1135.07 678.78 1133.9 681.4C1132.69 684.1 1131.97 687.13 1131 690" stroke="#d62728" stroke-width="4.0" stroke-dasharray="4.1 6.6"/>
<path d="M940 517C954 517.63 966.53 518.03 982 518.9C1001.14 519.97 1024.84 521.07 1046.2 523.2C1067.61 525.33 1091.09 528.99 1110.3 531.7C1126.01 533.92 1140.72 535.38 1153.1 538.1C1162.84 540.24 1171.22 542.62 1178.8 545.6C1185.21 548.12 1191.28 550.66 1195.9 554.2C1199.91 557.26 1203.29 560.72 1205.5 564.9C1207.79 569.22 1209.02 574.81 1209.2 579.8C1209.38 584.77 1208.26 589.76 1206.6 594.8C1204.73 600.45 1201.53 606.58 1198 611.9C1194.42 617.3 1189.65 621.75 1185.2 626.9C1180.42 632.43 1175.46 638.38 1170.2 644C1164.78 649.79 1158.03 655.69 1153.1 661.1C1149 665.6 1145.29 670.25 1142.4 674C1140.27 676.76 1138.5 678.74 1137.1 681.4C1135.7 684.07 1135.03 687.13 1134 690" stroke="#9467bd" stroke-width="3.0" stroke-linecap="square"/>
</g>
<g clip-path="url(#cd)" fill="none" stroke-linejoin="round">
<path d="M1370 134C1381.67 134.53 1390.77 134.83 1405 135.6C1427.26 136.8 1462.09 138.77 1490.6 140.9C1519.12 143.03 1549.64 145.92 1576.1 148.4C1599.04 150.55 1628.05 151.77 1640.3 154.8C1645.46 156.07 1647.99 157.02 1650.9 159.1C1653.61 161.04 1654.08 164.47 1657.4 166.6C1662.85 170.1 1674.37 171.49 1683.1 174.1C1692.19 176.82 1702.71 179.43 1710.9 182.6C1717.71 185.24 1728.11 187.47 1729.1 191.2C1729.9 194.21 1724.88 198.59 1721.6 201.9C1717.7 205.83 1708.22 209.46 1706.6 212.6C1705.83 214.1 1705.93 215.18 1706.6 216.8C1707.99 220.16 1716.53 225.05 1719.4 229.7C1721.87 233.71 1722.8 238.18 1723.7 242.5C1724.58 246.71 1724.45 250.88 1724.8 255.3C1725.18 260.03 1724.69 264.74 1725.9 270C1727.41 276.57 1732.26 284.17 1734.4 291.4C1736.49 298.44 1739.24 306.96 1738.7 312.8C1738.31 317.05 1737.04 321.01 1734.4 323.5C1731.54 326.19 1727.1 326.66 1721.6 327.8C1712.3 329.72 1697.57 329.93 1683.1 331C1664.43 332.39 1640.3 333.78 1618.9 335.2C1597.5 336.62 1576.09 338.07 1554.7 339.5C1533.32 340.93 1513.51 342.32 1490.6 343.8C1464.13 345.51 1425.02 347.72 1405 349.1C1394.18 349.85 1386.04 344.49 1380 351C1364.15 368.11 1364.15 506.89 1380 524C1386.04 530.51 1394.73 525.21 1405 525.9C1421.44 527 1447.81 528.45 1469.2 529.6C1490.57 530.75 1514.13 530.89 1533.3 532.8C1549.04 534.37 1563.69 536.73 1576.1 539.2C1585.81 541.13 1596.34 542.51 1601.8 545.6C1604.99 547.41 1608.45 550.01 1608.2 552C1607.91 554.33 1601.73 556.08 1597.5 558.4C1591.64 561.61 1581.39 565.26 1576.1 569.1C1572.34 571.83 1568.27 574.84 1567.6 577.7C1567.1 579.84 1568.39 581.97 1569.7 584.1C1571.46 586.97 1576.62 588.95 1578.3 592.7C1580.3 597.15 1580.18 604.6 1579.3 609.8C1578.51 614.47 1576.6 618.37 1574 622.6C1570.89 627.65 1565.89 632.76 1561.1 637.6C1555.96 642.79 1549.13 647.42 1544 652.6C1539.24 657.41 1535.13 662.8 1531.2 667.5C1527.74 671.64 1524.03 675.29 1521.6 679.3C1519.48 682.81 1518.53 686.43 1517 690" stroke="#1f77b4" stroke-width="3.0" stroke-dasharray="11.7 4.9"/>
<path d="M1370 86.5C1381.67 87.03 1390.77 87.38 1405 88.1C1427.26 89.22 1462.08 91.13 1490.6 92.8C1519.11 94.47 1549.66 95.96 1576.1 98.1C1599.05 99.95 1621.11 101.87 1640.3 104.5C1656.05 106.66 1670.76 108.86 1683.1 112C1692.83 114.47 1701.15 117.26 1708.7 120.6C1715.15 123.45 1722.24 126.34 1725.9 130.2C1728.59 133.04 1730.6 136.44 1730.6 139.8C1730.6 143.53 1726.15 147.79 1724.8 151.6C1723.63 154.89 1722.62 157.76 1722.6 161.2C1722.58 165.18 1724.84 169.62 1725.4 174.1C1725.99 178.86 1726 183.1 1725.9 189C1725.75 197.67 1724.6 210.41 1723.7 221.1C1722.8 231.81 1721.51 244.22 1720.5 253.2C1719.77 259.7 1718.96 263.49 1718.4 270C1717.63 278.97 1717.27 291.4 1716.9 302.1C1716.53 312.8 1716.07 323.5 1716.2 334.2C1716.33 344.9 1717.17 355.61 1717.7 366.3C1718.23 376.98 1719.12 387.62 1719.4 398.3C1719.68 408.99 1719.78 420.79 1719.4 430.4C1719.09 438.26 1718.58 444.69 1717.7 451.8C1716.82 458.95 1715.08 466.49 1714.1 473.2C1713.23 479.13 1713.16 483.54 1712 490C1710.39 499.02 1707.84 511.53 1704.5 522.1C1701.08 532.93 1696.52 543.63 1691.6 554.2C1686.55 565.04 1680.56 576.62 1674.5 586.3C1669.09 594.95 1663.19 602.21 1657.4 609.8C1651.78 617.17 1646.53 624.24 1640.3 631.2C1633.75 638.52 1625.41 646.12 1618.9 652.6C1613.46 658.02 1608.19 662.55 1603.9 667.5C1600.16 671.81 1597.11 676.38 1594.3 680.4C1591.92 683.8 1590.1 686.8 1588 690" stroke="#000000" stroke-width="5.0" stroke-linecap="square"/>
<path d="M1370 128.4C1381.67 129 1390.77 129.48 1405 130.2C1427.26 131.33 1462.08 132.9 1490.6 134.5C1519.11 136.1 1549.67 137.44 1576.1 139.8C1599.06 141.85 1622.62 144.51 1640.3 147.3C1652.88 149.29 1664.69 151.04 1672.4 153.7C1677.06 155.31 1681.29 156.15 1683.1 159.1C1684.97 162.14 1682.12 167.74 1683.1 171.9C1684.14 176.32 1687.59 180.29 1689.5 184.8C1691.51 189.53 1693.7 194.2 1694.8 199.7C1696.08 206.11 1695.44 213.25 1695.9 221.1C1696.46 230.72 1697.12 244.23 1698 253.2C1698.64 259.71 1699.52 264.06 1700.2 270C1700.97 276.7 1701.78 283.54 1702.3 291.4C1702.94 301.01 1703.4 312.8 1703.4 323.5C1703.4 334.2 1702.89 345.51 1702.3 355.6C1701.78 364.62 1701.11 372.85 1700.2 381.2C1699.33 389.24 1698.22 396.78 1697 404.8C1695.73 413.17 1693.93 421.67 1692.7 430.4C1691.42 439.46 1690.42 449.53 1689.5 458.2C1688.69 465.8 1687.69 473.73 1687.4 479.6C1687.2 483.68 1687.84 485.61 1687.4 490C1686.62 497.79 1683.39 511.44 1680.9 522.1C1678.39 532.84 1675.92 543.61 1672.4 554.2C1668.81 565.01 1664.89 576.27 1659.5 586.3C1654.17 596.22 1645.93 605.35 1640.3 614.1C1635.46 621.62 1631.96 628.88 1627.5 635.5C1623.37 641.64 1618.98 647.16 1614.6 652.6C1610.41 657.81 1606.15 662.79 1601.8 667.5C1597.61 672.03 1592.5 676.29 1589 680.4C1586.17 683.72 1584.33 686.8 1582 690" stroke="#ff7f0e" stroke-width="4.0" stroke-dasharray="15.1 6.2"/>
<path d="M1370 177.6C1381.67 178.2 1390.77 178.68 1405 179.4C1427.26 180.53 1462.09 181.73 1490.6 183.7C1519.13 185.67 1550.96 188.34 1576.1 191.2C1596.05 193.47 1615.09 195.61 1629.6 198.7C1639.81 200.87 1649.24 203.05 1655.3 206.1C1659.14 208.03 1662.66 209.9 1663.8 212.6C1664.82 215.01 1663.43 218.13 1662.8 221.1C1662.08 224.49 1659.35 228.26 1659.5 231.8C1659.65 235.39 1661.88 238.88 1663.8 242.5C1666.02 246.69 1670.25 250.68 1672.4 255.3C1674.56 259.94 1675.66 264.3 1676.7 270.3C1678.19 278.87 1677.87 291.87 1678.8 302.1C1679.67 311.69 1680.98 320.81 1682 329.9C1682.98 338.63 1684.2 347.42 1684.8 355.6C1685.34 363.05 1685.52 369.55 1685.6 377C1685.69 385.15 1685.77 393.91 1685.2 402.6C1684.61 411.69 1683.41 421.16 1682 430.4C1680.58 439.69 1678.4 449.54 1676.7 458.2C1675.21 465.8 1673.88 473.77 1672.4 479.6C1671.36 483.72 1670.4 485.56 1669.2 490C1667.11 497.74 1664.38 511.42 1661.7 522.1C1659.01 532.82 1656.3 543.55 1653.1 554.2C1649.87 564.95 1645.97 575.61 1642.4 586.3C1638.84 596.98 1636.02 608.91 1631.7 618.3C1627.99 626.37 1624.31 633.12 1618.9 639.7C1613.09 646.77 1604.04 653.26 1597.5 659C1592.09 663.74 1586.92 667.93 1582.5 671.8C1578.92 674.93 1575.84 677.34 1572.9 680.4C1570.01 683.41 1567.63 686.8 1565 690" stroke="#2ca02c" stroke-width="4.0" stroke-dasharray="25.6 6.5 4.1 6.5"/>
<path d="M1370 305C1381.67 306.17 1391.58 307.16 1405 308.5C1423.18 310.32 1447.83 312.4 1469.2 314.9C1490.6 317.4 1514.13 320.31 1533.3 323.5C1549.05 326.12 1564.41 328.52 1576.1 332C1584.6 334.53 1591.6 336.7 1597.5 340.6C1602.73 344.06 1606.71 348.7 1610.3 353.4C1613.81 357.99 1616.21 362.85 1618.9 368.4C1622 374.81 1624.65 382.66 1627.5 389.8C1630.35 396.93 1633.15 404.07 1636 411.2C1638.85 418.34 1642.09 425.41 1644.6 432.6C1647.07 439.68 1649.58 446.81 1651 454C1652.39 461.04 1652.78 468.85 1653.1 475.3C1653.36 480.65 1653.36 484.65 1653.1 490C1652.78 496.47 1652.16 503.58 1651 511.4C1649.57 521.05 1647.74 532.94 1644.6 543.5C1641.37 554.35 1636.2 565.59 1631.7 575.6C1627.6 584.7 1622.98 593.05 1618.9 601.2C1615.17 608.65 1612.45 615.85 1608.2 622.6C1603.9 629.42 1598.57 635.82 1593.2 641.9C1587.86 647.95 1581.52 653.21 1576.1 659C1570.84 664.62 1565.13 670.5 1561.1 676.1C1557.71 680.81 1555.7 685.37 1553 690" stroke="#d62728" stroke-width="4.0" stroke-dasharray="4.1 6.6"/>
<path d="M1370 525C1381.67 525.8 1391.58 526.38 1405 527.4C1423.18 528.79 1448.79 530.93 1469.2 532.8C1487.83 534.51 1505.84 535.59 1522.6 538.1C1537.71 540.36 1552.84 542.84 1565.4 546.7C1575.84 549.91 1585.29 553.85 1593.2 558.4C1599.86 562.24 1606.16 566.07 1610.3 571.3C1614.16 576.19 1617.13 582.6 1617.8 588.4C1618.44 594 1616.47 599.93 1614.6 605.5C1612.64 611.34 1609.86 617.37 1606.1 622.6C1602.13 628.12 1596.58 632.76 1591.1 637.6C1585.22 642.79 1577.97 647.52 1571.8 652.6C1565.86 657.49 1559.57 662.51 1554.7 667.5C1550.52 671.79 1546.74 676.28 1544 680.4C1541.8 683.71 1540.67 686.8 1539 690" stroke="#9467bd" stroke-width="3.0" stroke-linecap="square"/>
</g>
<g clip-path="url(#ce)" fill="none" stroke-linejoin="round">
<path d="M176.7 924C179.9 927.7 182.61 931.85 186.3 935.1C190.09 938.44 195.75 940.88 199.2 943.7C201.83 945.86 205.16 947.91 205.6 950.1C205.96 951.86 204.79 954.01 203.4 955.5C201.63 957.4 195.45 957.85 194.9 959.7C194.45 961.2 196.05 963.66 198.1 965.1C202.01 967.85 212.42 968.08 220.6 969.4C230.31 970.96 243.01 972.23 252.6 973.6C260.46 974.72 268.61 974.92 274 976.9C277.68 978.25 281.47 979.62 282.6 982.2C283.77 984.88 280.27 989.2 280.5 992.9C280.75 997.01 282.97 1001.49 284.7 1005.7C286.48 1010.06 289.25 1014.47 291.1 1018.6C292.76 1022.3 293.18 1025.94 295.4 1029.3C297.94 1033.14 301.73 1036.34 306.1 1040C311.84 1044.81 320.37 1049.92 327.5 1054.9C334.64 1059.89 341.33 1065.05 348.9 1069.9C356.97 1075.07 368.91 1081.5 374.6 1084.9C377.46 1086.6 378.05 1087.01 381 1088.8C387.6 1092.8 403.38 1102.16 413.1 1108.1C421.26 1113.08 433.68 1117.87 435.5 1122C436.32 1123.87 435.99 1125.79 434.5 1127.3C430.83 1131.02 413.46 1131.88 402.4 1133.8C390.68 1135.84 373.61 1135.57 366 1139.1C361.77 1141.06 358.05 1143.79 357.5 1146.6C356.99 1149.17 359.09 1152.82 361.7 1155.1C365.53 1158.45 372.83 1159.93 381 1161.6C394.26 1164.31 417.66 1164.71 434.5 1165.8C449.53 1166.78 463.4 1167.22 477.2 1168C490.19 1168.73 503.7 1169.68 515 1170.3C524.19 1170.8 531.67 1171.1 540 1171.5M463.9 1318.5C467.83 1320.03 475.42 1321.45 475.7 1323.1C475.88 1324.15 473.73 1325.34 471.8 1326.4C468.05 1328.47 459.96 1330.53 453.4 1332.2C446.07 1334.06 437.19 1335.68 429.8 1336.8C423.33 1337.78 411.49 1338.26 411.5 1338.8C411.51 1339.38 424.34 1339.64 432.4 1340.1C443.47 1340.73 458.26 1341.47 471.8 1342.1C486.2 1342.77 503.88 1343.47 516.4 1344C525.51 1344.39 532.13 1344.67 540 1345M540 1438C519.67 1438.67 495.57 1438.73 479 1440C467.53 1440.88 458.77 1442.42 450 1443.5C442.71 1444.39 436.63 1444.76 430 1446C423.3 1447.25 416.6 1448.87 410 1451C403.26 1453.18 395.08 1456.42 390 1459C386.64 1460.71 383.65 1461.91 382 1464C380.65 1465.71 380.37 1467.71 380 1470C379.53 1472.88 380.11 1476.96 380 1480C379.91 1482.54 379.59 1484.59 379.5 1487C379.41 1489.58 379.5 1492.33 379.5 1495" stroke="#1f77b4" stroke-width="3.0" stroke-dasharray="11.7 4.9"/>
<path d="M152.1 877.4C154.23 880.97 156.44 884.33 158.5 888.1C160.71 892.14 163.71 897.11 164.9 900.9C165.77 903.65 166.7 906.25 166 908.4C165.3 910.55 162.05 911.89 160.7 913.8C159.51 915.48 157.67 917.58 158.1 919.1C158.6 920.87 162.84 921.77 164.9 923.4C166.9 924.98 169.58 926.39 170.3 928.7C171.16 931.48 169.04 935.68 168.2 939.4C167.27 943.51 165.62 947.81 164.9 952.3C164.14 957.05 163.92 962.06 163.9 967.2C163.88 972.7 164.37 978.6 164.9 984.3C165.43 990.03 166.55 995.77 167.1 1001.5C167.65 1007.2 167.69 1012.74 168.2 1018.6C168.74 1024.82 169.55 1031.17 170.3 1037.8C171.11 1044.93 171.96 1052.3 172.9 1060C173.92 1068.37 174.37 1078.17 176.2 1086.2C177.82 1093.32 180.41 1099.37 182.8 1105.9C185.21 1112.5 187.78 1119.08 190.6 1125.6C193.45 1132.19 196.36 1138.74 199.8 1145.2C203.34 1151.85 207.48 1158.38 211.6 1164.9C215.78 1171.52 220.14 1178.1 224.7 1184.6C229.33 1191.2 234.21 1197.7 239.2 1204.2C244.27 1210.8 249.42 1217.41 254.9 1223.9C260.51 1230.55 266.62 1236.54 272.5 1243.6C278.92 1251.31 285.02 1260.45 291.8 1268.5C298.62 1276.59 306.54 1284.81 313.3 1292C319.17 1298.25 324.41 1303.61 330 1309.3C335.54 1314.94 341.34 1320.69 346.7 1326C351.64 1330.89 356.84 1335.66 361 1340C364.41 1343.56 366.95 1346.48 370 1350C373.28 1353.79 376.67 1358 380 1362C383.33 1366 386.87 1370.17 390 1374C392.83 1377.47 395.63 1380.58 398 1384C400.27 1387.26 402.15 1390.63 404 1394C405.81 1397.3 407.19 1400.7 409 1404C410.85 1407.37 412.77 1410.64 415 1414C417.4 1417.63 420.2 1421.37 423 1425C425.86 1428.71 428.96 1432.46 432 1436C434.96 1439.45 438.28 1442.58 441 1446C443.59 1449.26 446.3 1452.63 448 1456C449.5 1458.97 450.33 1461.88 451 1465C451.69 1468.21 451.83 1471.51 452 1475C452.19 1478.81 452 1483.4 452 1487C452 1489.94 452 1492.33 452 1495" stroke="#000000" stroke-width="5.0" stroke-linecap="square"/>
<path d="M147.8 919.1C149.23 923.03 150.82 927.04 152.1 930.9C153.3 934.54 153.77 938.13 155.3 941.6C156.92 945.27 160.74 948.81 161.7 952.3C162.5 955.18 162.13 957.84 161.7 960.8C161.2 964.2 158.78 968.1 158.5 971.5C158.25 974.5 158.61 977.35 159.6 980.1C160.67 983.07 163.72 985.89 165 988.6C166.05 990.82 166.95 992.57 167.1 995C167.29 998.09 165.52 1001.5 165 1005.7C164.27 1011.59 164.27 1019.97 163.9 1027.1C163.53 1034.23 162.9 1041.95 162.8 1048.5C162.71 1054.05 163.04 1057.81 163.1 1063.9C163.19 1072.79 162.64 1086.99 163.1 1096.7C163.47 1104.49 164.22 1110.71 165.1 1117.7C165.98 1124.71 167.18 1131.83 168.4 1138.7C169.59 1145.36 170.73 1152.03 172.3 1158.3C173.79 1164.23 175.4 1169.66 177.5 1175.4C179.72 1181.46 182.58 1187.63 185.4 1193.7C188.27 1199.87 191.34 1206.02 194.6 1212.1C197.9 1218.26 201.47 1224.2 205.1 1230.4C208.89 1236.86 212.92 1243.68 216.9 1250.1C220.79 1256.37 224.61 1261.68 228.7 1268.5C233.61 1276.68 238.78 1287.53 244.1 1296C248.94 1303.71 254.33 1309.65 259.1 1317.4C264.34 1325.92 268.94 1336.16 274 1345.2C278.91 1353.98 284.35 1363.1 289 1370.9C292.92 1377.48 297.41 1383.6 300 1389C301.93 1393.02 302.41 1396.3 304 1400C305.7 1403.96 308.01 1408.45 310 1412C311.67 1414.98 313.08 1417.41 315 1420C317.04 1422.75 319.67 1425.33 322 1428C324.33 1430.67 326.92 1433.37 329 1436C330.87 1438.36 332.68 1440.41 334 1443C335.38 1445.72 336.24 1449.06 337 1452C337.7 1454.72 338.24 1457.17 338.5 1460C338.79 1463.13 338.56 1466.23 338.5 1470C338.43 1474.92 338.07 1482.39 338 1487C337.95 1490.16 338 1492.33 338 1495" stroke="#ff7f0e" stroke-width="4.0" stroke-dasharray="15.1 6.2"/>
<path d="M153.2 972.6C154.27 975.8 154.98 979.17 156.4 982.2C157.82 985.23 159.82 988.21 161.7 990.8C163.41 993.16 165.31 995.06 167.1 997.2C168.88 999.33 171.35 1001.32 172.4 1003.6C173.33 1005.62 173.69 1007.53 173.5 1010C173.23 1013.56 170.32 1018.93 169.2 1022.8C168.29 1025.93 167.22 1028.24 167.1 1031.4C166.95 1035.23 168.76 1039.69 169.2 1044.2C169.68 1049.17 169.8 1054.45 169.7 1060C169.59 1066.21 168.9 1072.67 168.4 1079.7C167.82 1087.81 166.73 1097.16 166.4 1105.9C166.07 1114.63 166.4 1123.37 166.4 1132.1C166.4 1140.83 165.85 1149.58 166.4 1158.3C166.95 1167.08 168.41 1177.17 169.7 1184.6C170.66 1190.14 171.61 1193.69 172.9 1199C174.52 1205.64 176.38 1214.32 178.8 1221.3C181.05 1227.79 183.87 1234.09 186.7 1239.6C189.18 1244.42 191.73 1248.16 194.6 1252.7C197.8 1257.75 202.8 1264.87 205.1 1268.5C206.28 1270.37 206.53 1270.78 207.7 1272.8C210.39 1277.44 216.5 1288.62 220.6 1296C224.34 1302.73 227.65 1309.11 231.3 1315.3C234.79 1321.22 239.06 1326.78 242 1332.4C244.64 1337.43 246.52 1341.94 248.4 1347.3C250.48 1353.25 251.99 1359.83 253.7 1366.6C255.57 1374.03 257.18 1382.1 259.1 1390.1C261.11 1398.48 263.03 1407.28 265.5 1415.8C267.99 1424.41 271.15 1432.95 274 1441.5C276.85 1450.04 280.38 1459.11 282.6 1467.1C284.5 1473.93 286 1481.23 286.9 1486.4C287.5 1489.82 287.63 1492.13 288 1495" stroke="#2ca02c" stroke-width="4.0" stroke-dasharray="25.6 6.5 4.1 6.5"/>
<path d="M170.3 1096.7C171.4 1100.2 172.16 1103.89 173.6 1107.2C175.01 1110.45 176.72 1113.57 178.8 1116.4C180.89 1119.24 183.78 1121.55 186.1 1124.2C188.37 1126.79 191.63 1129.11 192.6 1132.1C193.55 1135.03 192.84 1138.77 192 1141.9C191.14 1145.11 188.91 1147.97 187.4 1151.1C185.84 1154.33 184.44 1157.73 182.8 1161C181.14 1164.3 178.83 1167.45 177.5 1170.8C176.23 1173.99 175.75 1177.27 174.9 1180.6C174.02 1184.04 172.95 1187.58 172.3 1191.1C171.66 1194.58 171.33 1198.1 171 1201.6C170.67 1205.1 170.4 1208 170.3 1212.1C170.16 1217.9 170.42 1226.11 170.7 1233.1C170.98 1240.08 171.38 1248.23 172 1254C172.44 1258.11 173.18 1260.83 173.6 1264.5C174.06 1268.5 173.9 1272.5 174.6 1277.1C175.47 1282.79 177.45 1289.86 178.9 1296C180.28 1301.85 181.17 1306.88 183.1 1313.1C185.51 1320.86 189.02 1330.55 192.8 1338.8C196.53 1346.94 201.26 1354.69 205.6 1362.3C209.79 1369.64 214.73 1376.65 218.4 1383.7C221.77 1390.17 224.53 1396.24 227 1402.9C229.55 1409.76 231.38 1416.67 233.4 1424.3C235.68 1432.93 238.13 1443.65 239.8 1452.1C241.18 1459.1 242.28 1465.36 243 1471.4C243.63 1476.7 243.84 1482.09 244.1 1486.4C244.3 1489.66 244.37 1492.13 244.5 1495" stroke="#d62728" stroke-width="4.0" stroke-dasharray="4.1 6.6"/>
<path d="M180.3 1309.9C180.17 1318.1 178.82 1327.12 179.9 1334.5C180.82 1340.8 184.17 1345.02 185.3 1351.6C186.76 1360.12 185.06 1371.66 186.3 1381.6C187.55 1391.63 190.26 1401.77 192.8 1411.5C195.28 1420.99 198.58 1430.21 201.3 1439.3C203.91 1448.03 206.78 1456.78 208.8 1465C210.62 1472.42 212.25 1480.85 213.1 1486.4C213.63 1489.89 213.7 1492.13 214 1495" stroke="#9467bd" stroke-width="3.0" stroke-linecap="square"/>
</g>
<g clip-path="url(#cf)" fill="none" stroke-linejoin="round">
<path d="M530 957.6C539.33 957.97 547.68 958.24 558 958.7C570.76 959.26 586.37 959.76 600.8 960.8C615.6 961.87 637.51 964.01 645.7 965.1C648.81 965.52 652.02 965.51 652.1 966.2C652.21 967.08 645.36 969.06 642.5 970.4C640.14 971.51 636.13 972.42 636.1 973.6C636.06 974.9 639.9 976.61 643.6 977.9C651.86 980.77 672.07 981.99 686.3 984.3C700.57 986.62 718.62 988.69 729.1 991.8C735.52 993.7 742.66 995.19 744.1 998.2C745.1 1000.28 743.67 1003.39 742 1005.7C739.64 1008.95 733.27 1011.4 729.1 1014.3C725.08 1017.1 718.13 1019.83 717.4 1022.8C716.88 1024.9 718.65 1027.14 720.6 1029.3C723.85 1032.9 733.44 1035.95 737.7 1040C741.13 1043.26 744.23 1046.95 745.2 1050.7C746.08 1054.09 743.7 1057.64 744.1 1061.3C744.55 1065.44 746.6 1070.08 748.4 1074.2C750.18 1078.28 752.99 1081.95 754.8 1085.9C756.53 1089.69 757.3 1093.01 759.1 1097.4C761.59 1103.47 766.08 1113.31 768.7 1118.8C770.37 1122.3 773.08 1124.81 773 1127.3C772.93 1129.32 771.79 1131.26 769.8 1132.7C766.27 1135.26 758.25 1135.85 750.5 1137C739.09 1138.69 723.41 1139.22 707.7 1140.2C688.49 1141.4 666.51 1142.4 643.6 1143.4C617.13 1144.56 578.76 1145.88 558 1146.6C546.13 1147.01 536.75 1140.53 530 1147.5C512.32 1165.76 512.31 1321.56 530 1339.5C536.75 1346.35 547.69 1339.32 558 1339.9C570.77 1340.62 586.54 1342.5 600.8 1344.1C615.08 1345.7 631.22 1347.18 643.6 1349.5C653.29 1351.31 664.41 1353.19 669.2 1355.9C671.5 1357.2 673.74 1358.71 673.5 1360.2C673.07 1362.85 662.48 1365.97 656.4 1368.7C649.72 1371.7 638.29 1374.24 635 1377.3C633.5 1378.69 632.8 1380.05 632.9 1381.6C633.02 1383.55 634.56 1386.1 637.1 1388C642.06 1391.71 660.04 1392.76 665 1396.5C667.55 1398.43 669.42 1400.93 669.2 1403C668.96 1405.24 663.48 1406.89 662.8 1409.4C662.13 1411.87 664.04 1414.93 665 1417.9C666.1 1421.29 666.55 1425.41 669.2 1428.6C672.71 1432.83 681.35 1435.78 686.3 1439.3C690.38 1442.2 694.92 1443.87 697 1447.9C699.46 1452.67 697.04 1462.03 698.1 1467.1C698.83 1470.6 700.49 1472.63 701.3 1475.7C702.18 1479.03 702.63 1483.02 703 1486.4C703.33 1489.41 703.33 1492.13 703.5 1495" stroke="#1f77b4" stroke-width="3.0" stroke-dasharray="11.7 4.9"/>
<path d="M530 905.5C539.33 906.1 546.13 906.47 558 907.3C578.77 908.76 615.09 911.3 643.6 913.8C672.12 916.3 705.55 918.77 729.1 922.3C745.88 924.81 760.99 927.46 771.9 930.9C779.04 933.15 784.9 935.37 789 938.4C791.97 940.59 794.74 943.05 795.4 945.8C796.03 948.41 793.83 951.52 793.3 954.4C792.77 957.25 791.59 960.25 792.2 963C792.86 965.97 795.74 968.49 797.6 971.5C799.66 974.85 802.41 978.35 804 982.2C805.64 986.16 806.36 990.15 807.2 995C808.27 1001.19 808.58 1009.27 809.3 1016.4C810.02 1023.53 810.97 1030.66 811.5 1037.8C812.03 1044.93 812.34 1052.5 812.5 1059.2C812.64 1065.14 812.39 1069.5 812.5 1076C812.65 1084.98 812.88 1097.41 813.6 1108.1C814.32 1118.81 815.24 1130.14 816.8 1140.2C818.2 1149.26 820.57 1157.43 822.2 1165.8C823.76 1173.81 824.7 1181.98 826.4 1189.4C827.95 1196.17 830.38 1201.98 831.8 1208.6C833.28 1215.49 834.28 1222.38 835 1230C835.81 1238.64 835.88 1247.8 836.1 1257.8C836.36 1269.52 836.32 1285.1 836.3 1296C836.28 1304.16 836.41 1309.55 836.1 1317.4C835.73 1327.02 835.03 1339.21 833.9 1349.5C832.85 1359.12 831.43 1368.68 829.7 1377.3C828.16 1384.94 826.32 1391.8 824.3 1398.7C822.37 1405.31 820.27 1411.74 817.9 1417.9C815.62 1423.82 812.79 1429.48 810.4 1435C808.17 1440.16 805.59 1444.74 804 1450C802.36 1455.43 801.18 1461.2 800.8 1467.1C800.4 1473.32 801.72 1481.25 801.9 1486.4C802.02 1489.84 801.97 1492.13 802 1495" stroke="#000000" stroke-width="5.0" stroke-linecap="square"/>
<path d="M530 946.3C539.33 946.87 546.13 947.27 558 948C578.76 949.27 617.15 951.16 643.6 953.3C666.53 955.15 689.12 956.71 707.7 959.7C722.24 962.04 738.59 964.5 746.2 968.3C750.01 970.2 752.8 972.03 753.7 974.7C754.6 977.37 751.09 981.29 751.6 984.3C752.12 987.36 754.52 989.9 756.9 992.9C760.09 996.93 766.26 1000.79 769.8 1005.7C773.43 1010.73 775.52 1016.9 778.3 1022.8C781.22 1029.01 783.98 1035.89 786.9 1042.1C789.68 1048 792.54 1053.53 795.4 1059.2C798.24 1064.83 800.99 1070.05 804 1076C807.39 1082.69 811.57 1089.82 814.7 1097.4C818.03 1105.46 820.99 1114.28 823.2 1123.1C825.45 1132.1 827.24 1141.99 828 1150.9C828.7 1159.03 828.46 1166.76 828 1174.4C827.56 1181.71 826.32 1188.34 825.4 1195.8C824.39 1203.98 823.1 1212.93 822.2 1221.5C821.3 1230.03 820.08 1238.08 820 1247.1C819.91 1257.19 821.04 1270.25 822.2 1279.2C823.04 1285.73 824.24 1290.06 825.4 1296C826.71 1302.71 828.52 1309.51 829.7 1317.4C831.14 1326.99 832.79 1339.18 832.9 1349.5C833 1359.1 832.17 1368.95 830.7 1377.3C829.46 1384.36 827.23 1390.3 825.4 1396.5C823.66 1402.38 821.84 1408.1 820 1413.6C818.27 1418.78 816.27 1423.4 814.7 1428.6C813.05 1434.08 810.64 1439.8 810.4 1445.7C810.14 1451.91 813.05 1458.38 813.6 1465C814.17 1471.93 813.6 1480.86 813.6 1486.4C813.6 1489.91 813.6 1492.13 813.6 1495" stroke="#ff7f0e" stroke-width="4.0" stroke-dasharray="15.1 6.2"/>
<path d="M530 995.5C539.33 996.07 546.13 996.4 558 997.2C578.77 998.61 620.02 1000.95 643.6 1003.6C660.32 1005.48 673.94 1007.28 686.3 1010C696.03 1012.14 705.47 1014.37 712 1017.5C716.56 1019.69 720.79 1021.75 722.7 1025C724.43 1027.95 722.8 1032.22 723.8 1035.7C724.86 1039.36 726.33 1043.14 729.1 1046.4C732.55 1050.45 739.66 1053.34 744.1 1057.1C748.13 1060.51 752.21 1064.27 754.8 1067.8C756.83 1070.56 757.22 1072.66 759.1 1076C762.18 1081.49 767.33 1090.35 771.9 1097.4C776.58 1104.62 782.22 1111.58 786.9 1118.8C791.47 1125.85 795.75 1132.99 799.7 1140.2C803.57 1147.26 807.34 1154.37 810.4 1161.6C813.38 1168.64 816.11 1175.79 817.9 1183C819.64 1190.03 820.92 1197.18 821.1 1204.3C821.28 1211.41 819.88 1218.58 819 1225.7C818.12 1232.84 816.88 1239.97 815.8 1247.1C814.72 1254.23 813.58 1261.37 812.5 1268.5C811.42 1275.63 809.67 1284.92 809.3 1289.9C809.1 1292.54 809.25 1293.17 809.3 1296C809.41 1302.5 809.5 1317.42 810.4 1328.1C811.3 1338.82 812.78 1350.16 814.7 1360.2C816.44 1369.27 819.68 1377.03 821.1 1385.8C822.56 1394.82 823.08 1404.94 823.2 1413.6C823.31 1421.2 823.31 1428.11 822.2 1435C821.13 1441.66 819.16 1448.17 816.8 1454.3C814.5 1460.29 810.68 1465.82 808.3 1471.4C806.12 1476.5 804.16 1482.06 802.9 1486.4C801.97 1489.63 801.63 1492.13 801 1495" stroke="#2ca02c" stroke-width="4.0" stroke-dasharray="25.6 6.5 4.1 6.5"/>
<path d="M530 1127C539.33 1128.9 547.64 1131.01 558 1132.7C570.72 1134.78 587.62 1135.65 600.8 1138C612.33 1140.05 622.27 1142.49 632.9 1145.5C643.67 1148.55 654.4 1152.14 665 1156.2C675.77 1160.32 686.97 1164.51 697 1170.1C706.88 1175.61 716.24 1183.02 724.8 1189.4C732.5 1195.14 739.41 1200.44 746.2 1206.5C752.97 1212.54 759.36 1219.19 765.5 1225.7C771.48 1232.03 777.18 1238.49 782.6 1245C787.87 1251.33 793.17 1257.87 797.6 1264.2C801.63 1269.96 805.41 1275.44 808.3 1281.3C811.05 1286.89 813.11 1292.55 814.7 1298.5C816.33 1304.58 817.46 1310.47 817.9 1317.4C818.44 1325.75 817.9 1336.16 816.8 1345.2C815.73 1353.98 813.32 1362.53 811.5 1370.9C809.75 1378.92 807.68 1386.37 806.1 1394.4C804.46 1402.75 803.15 1411.53 801.9 1420.1C800.65 1428.63 799.73 1437.55 798.6 1445.7C797.56 1453.16 796.1 1460.13 795.4 1467.1C794.74 1473.68 794.59 1481.25 794.4 1486.4C794.27 1489.84 794.27 1492.13 794.2 1495" stroke="#d62728" stroke-width="4.0" stroke-dasharray="4.1 6.6"/>
<path d="M530 1339C539.33 1339.43 546.76 1339.71 558 1340.3C575.03 1341.2 600.83 1342.4 622.2 1344.1C643.59 1345.8 667.13 1347.87 686.3 1350.5C702.05 1352.66 715.92 1355.08 729.1 1358C740.63 1360.55 750.97 1363.27 761.2 1366.6C770.89 1369.75 781.02 1373.31 789 1377.3C795.57 1380.58 801.62 1384.02 806.1 1388C809.8 1391.28 812.92 1394.72 814.7 1398.7C816.43 1402.57 817.06 1407.09 816.8 1411.5C816.52 1416.33 814.26 1421.55 812.5 1426.5C810.7 1431.56 808.63 1436.81 806.1 1441.5C803.64 1446.06 800.06 1449.74 797.6 1454.3C795.07 1458.99 792.63 1464.03 791.2 1469.3C789.73 1474.72 789.3 1481.66 789 1486.4C788.79 1489.75 789 1492.13 789 1495" stroke="#9467bd" stroke-width="3.0" stroke-linecap="square"/>
</g>
<g clip-path="url(#cg)" fill="none" stroke-linejoin="round">
<path d="M950 928.5C960.67 929.63 969.49 930.6 982 931.9C999.71 933.74 1024.84 935.72 1046.2 938.4C1067.61 941.09 1088.91 944.98 1110.3 948C1131.68 951.02 1157.64 952.8 1174.5 956.5C1185.8 958.98 1202.42 962.3 1202.3 965.1C1202.14 968.78 1169.89 972.64 1153.1 975.8C1135.69 979.07 1111.66 980.03 1099.6 984.3C1092.8 986.71 1087.89 989 1084.7 992.9C1081.87 996.36 1081.6 1001.08 1080.4 1005.7C1079.04 1010.94 1078.68 1017.34 1077.2 1022.8C1075.78 1028.02 1073.32 1032.29 1071.8 1037.8C1070.02 1044.24 1068.86 1052.24 1067.6 1059.2C1066.41 1065.79 1065.41 1072.1 1064.4 1078.5C1063.41 1084.83 1062.42 1090.9 1061.6 1097.4C1060.73 1104.3 1060.43 1113.11 1059.4 1118.8C1058.7 1122.66 1059.3 1125.91 1056.9 1128.4C1053.3 1132.13 1043.42 1132.96 1035.5 1134.8C1025.94 1137.02 1013.02 1138.54 1003.4 1140.2C995.54 1141.56 989.18 1142.71 982 1144C974.72 1145.31 963.65 1143.62 960 1148C956.38 1152.34 956.73 1164.07 960 1170C963.64 1176.61 977.42 1178.78 983.1 1184.6C987.92 1189.54 990.4 1195.55 993.2 1201.5C996.05 1207.54 998.5 1214.35 1000 1220.6C1001.38 1226.33 1001.73 1231.6 1002.2 1237.5C1002.71 1243.92 1002.33 1251.65 1002.8 1257.7C1003.19 1262.66 1003.23 1267.01 1004.5 1271.2C1005.72 1275.22 1007.82 1279 1010.1 1282.4C1012.33 1285.72 1015 1288.52 1018 1291.4C1021.29 1294.55 1025.37 1297.72 1029.2 1300.4C1032.87 1302.96 1036.52 1305.02 1040.5 1307.2C1044.76 1309.53 1049.55 1311.99 1054 1313.9C1058.15 1315.68 1061.86 1316.85 1066.3 1318.4C1071.47 1320.2 1077.13 1322.23 1083.2 1324C1090.13 1326.02 1098.18 1328 1105.7 1329.7C1113.18 1331.39 1120.81 1332.7 1128.2 1334.2C1135.4 1335.66 1146.81 1336.19 1149.5 1338.6C1150.59 1339.58 1150.9 1340.69 1150.6 1342C1150.02 1344.53 1142.66 1348 1141.4 1351.6C1140.27 1354.84 1140.74 1359.22 1142.4 1362.3C1144.27 1365.78 1149.88 1367.68 1153.1 1370.9C1156.32 1374.12 1160.57 1377.79 1161.7 1381.6C1162.7 1384.97 1159.45 1389.42 1160.6 1392.3C1161.71 1395.06 1165.74 1396.52 1168.1 1398.7C1170.36 1400.79 1174.33 1402.74 1174.5 1405.1C1174.68 1407.66 1169.52 1410.6 1168.1 1413.6C1166.81 1416.33 1167.37 1419.25 1166 1422.2C1164.24 1425.99 1157.01 1431.42 1157.4 1434C1157.64 1435.56 1159.25 1436.23 1161.7 1437.2C1169.62 1440.34 1198.16 1440.6 1217.3 1443.6C1238 1446.85 1261.09 1452.32 1281.5 1456.4C1300.12 1460.12 1320 1463.89 1334.9 1467.1C1345.68 1469.42 1358.54 1469.44 1362.7 1473.5C1365.02 1475.77 1366.33 1480.04 1364.9 1482.1C1362.26 1485.9 1345.08 1484.42 1334.9 1485.3C1324.39 1486.2 1312.48 1485.5 1302.8 1487.4C1294.44 1489.04 1287.6 1492.47 1280 1495" stroke="#1f77b4" stroke-width="3.0" stroke-dasharray="11.7 4.9"/>
<path d="M950 894C960.67 894.73 968.76 895.3 982 896.2C1003.65 897.68 1039.08 899.97 1067.6 902C1096.11 904.03 1125.55 906.19 1153.1 908.4C1178.9 910.47 1208.25 912.97 1228 914.8C1240.94 916 1250.01 916.87 1260.1 918C1269.12 919.01 1283.48 918.68 1285.7 921.2C1286.48 922.09 1286.48 923.48 1285.7 924.4C1283.48 927.02 1269.75 927.41 1260.1 928.7C1247.68 930.37 1231.57 931.57 1217.3 933C1203.03 934.43 1187.74 935.97 1174.5 937.3C1163.03 938.45 1151.97 938.85 1142.4 940.5C1134.49 941.87 1127.11 943.53 1121 945.8C1116.07 947.64 1111.87 949.65 1108.2 952.3C1104.83 954.73 1102.69 958.03 1099.6 960.8C1096.32 963.74 1092.2 966.19 1089 969.4C1085.79 972.62 1082.59 976.36 1080.4 980.1C1078.4 983.52 1077.1 986.86 1076.1 990.8C1074.96 995.29 1074.76 1000.28 1074.4 1005.7C1073.97 1012.18 1074.43 1019.98 1074 1027.1C1073.57 1034.24 1072.56 1041.77 1071.8 1048.5C1071.12 1054.52 1070.37 1059.65 1069.7 1065.6C1068.97 1072.07 1068.45 1078.99 1067.6 1085.9C1066.7 1093.14 1065.26 1100 1064.4 1108.1C1063.37 1117.8 1062.75 1129.5 1062.2 1140.2C1061.65 1150.9 1061.35 1161.61 1061.1 1172.3C1060.85 1182.97 1060.85 1192.86 1060.7 1204.3C1060.52 1217.53 1060.3 1231.7 1060.1 1247.1C1059.87 1265.17 1059.6 1289.22 1059.4 1306C1059.25 1318.52 1059.07 1327.14 1059 1338.8C1058.92 1352.12 1058.82 1367.34 1059 1381.6C1059.18 1395.84 1058 1414.34 1060.1 1424.3C1061.3 1429.99 1062.6 1433.4 1065.4 1437.2C1068.46 1441.37 1073.16 1444.99 1078.3 1447.9C1084.27 1451.28 1091.69 1453.23 1099.6 1455.4C1109.12 1458.01 1120.98 1459.85 1131.7 1461.8C1142.38 1463.75 1155.16 1465.15 1163.8 1467.1C1169.79 1468.45 1177.08 1469.12 1178.8 1471.4C1179.7 1472.6 1179.8 1474.47 1178.8 1475.7C1176.33 1478.73 1162.18 1479.61 1153.1 1481C1143.03 1482.54 1129.64 1482.85 1121 1484.2C1115.06 1485.13 1110.54 1485.49 1106.1 1487.4C1101.93 1489.19 1098.7 1492.47 1095 1495" stroke="#000000" stroke-width="5.0" stroke-linecap="square"/>
<path d="M950 937.2C960.67 938.3 969.49 939.23 982 940.5C999.71 942.3 1024.81 944.77 1046.2 946.9C1067.58 949.03 1088.93 950.99 1110.3 953.3C1131.7 955.62 1155.32 957.76 1174.5 960.8C1190.26 963.3 1207.47 965.34 1217.3 969.4C1223.13 971.81 1230.25 975.38 1230.1 977.9C1229.95 980.33 1223 982.49 1217.3 984.3C1207.38 987.45 1188.77 988.65 1174.5 990.8C1160.23 992.95 1144.87 994.48 1131.7 997.2C1120.16 999.58 1108.74 1002.01 1099.6 1005.7C1092.17 1008.7 1084.24 1012.05 1080.4 1016.4C1077.62 1019.55 1077.14 1022.83 1076.1 1027.1C1074.67 1032.93 1074.53 1041.36 1074 1048.5C1073.47 1055.63 1072.84 1063.29 1072.9 1069.9C1072.95 1075.62 1074.35 1080.16 1074 1085.9C1073.58 1092.72 1070.89 1099.99 1069.7 1108.1C1068.28 1117.79 1067.35 1128.72 1066.5 1140.2C1065.52 1153.43 1065.12 1168.74 1064.4 1183C1063.68 1197.24 1062.75 1211.45 1062.2 1225.7C1061.65 1239.95 1061.35 1254.7 1061.1 1268.5C1060.87 1281.41 1060.85 1292.35 1060.7 1306C1060.52 1322.41 1060.2 1341.38 1060.1 1360.2C1059.99 1380.67 1057.92 1409.83 1060.1 1424.3C1061.25 1431.97 1062.26 1436.82 1065.4 1441.5C1068.43 1446.01 1074.02 1448.55 1078.3 1452.1C1082.58 1455.65 1088.36 1459.9 1091.1 1462.8C1092.66 1464.45 1094.34 1465.54 1094.3 1467.1C1094.25 1469.04 1091.28 1471.53 1089 1473.5C1086.2 1475.92 1081.62 1477.76 1078.3 1480C1075.22 1482.07 1071.77 1483.78 1069.7 1486.4C1067.77 1488.84 1067.23 1492.13 1066 1495" stroke="#ff7f0e" stroke-width="4.0" stroke-dasharray="15.1 6.2"/>
<path d="M950 989C960.67 989.4 969.51 989.39 982 990.2C999.73 991.35 1024.82 993.87 1046.2 996.1C1067.59 998.33 1091.12 1000.8 1110.3 1003.6C1126.04 1005.9 1142.2 1007.81 1153.1 1011.1C1160.25 1013.26 1167.25 1015.13 1170.2 1018.6C1172.22 1020.98 1173.12 1024.45 1172.4 1027.1C1171.55 1030.22 1168.03 1033.27 1163.8 1035.7C1156.81 1039.72 1142.4 1041.35 1131.7 1044.2C1121 1047.05 1108.82 1049.54 1099.6 1052.8C1092.27 1055.39 1084.28 1058.02 1080.4 1061.3C1078.03 1063.3 1077.38 1065.17 1076.1 1067.8C1074.41 1071.26 1072.74 1075.45 1071.8 1080.6C1070.46 1087.96 1071.14 1098.58 1070.8 1108.1C1070.44 1118.39 1070.18 1128.73 1069.7 1140.2C1069.15 1153.44 1068.48 1168.75 1067.6 1183C1066.72 1197.25 1065.3 1211.45 1064.4 1225.7C1063.5 1239.95 1062.76 1254.7 1062.2 1268.5C1061.68 1281.41 1061.35 1292.35 1061.1 1306C1060.8 1322.41 1060.77 1341.38 1060.7 1360.2C1060.62 1380.67 1058.76 1409.81 1060.7 1424.3C1061.73 1431.94 1062.28 1436.58 1065.4 1441.5C1068.68 1446.67 1075.31 1450.33 1080.4 1454.3C1085.32 1458.14 1092.4 1461.76 1095.4 1465C1097.14 1466.88 1098.93 1468.67 1098.6 1470.3C1098.19 1472.3 1093.9 1474.02 1091.1 1475.7C1087.92 1477.62 1083.41 1479.03 1080.4 1481C1077.88 1482.65 1075.71 1484.17 1074 1486.4C1072.18 1488.78 1071.33 1492.13 1070 1495" stroke="#2ca02c" stroke-width="4.0" stroke-dasharray="25.6 6.5 4.1 6.5"/>
<path d="M950 1109C960.67 1110.7 970.56 1112.28 982 1114.1C995.23 1116.21 1011.56 1118.73 1024.8 1120.9C1036.27 1122.78 1046.19 1124.7 1056.9 1126.3C1067.59 1127.9 1077.56 1128.75 1089 1130.5C1102.24 1132.53 1119.94 1135.49 1131.7 1138C1140.09 1139.79 1149.32 1140.36 1153.1 1143.4C1155.25 1145.13 1156.95 1147.94 1156.3 1149.8C1155.34 1152.52 1148.08 1154.05 1142.4 1156.2C1133.99 1159.37 1120.34 1162.4 1110.3 1165.8C1101.23 1168.87 1091.14 1171.58 1084.7 1175.5C1080.03 1178.34 1076.6 1181.89 1074 1185.1C1071.98 1187.59 1070.74 1189.51 1069.7 1192.6C1068.27 1196.83 1068.12 1202.1 1067.6 1208.6C1066.8 1218.64 1066.84 1232.91 1066.5 1247.1C1066.09 1264.65 1066.09 1289.23 1065.4 1306C1064.88 1318.53 1063.9 1327.14 1063.3 1338.8C1062.61 1352.12 1061.88 1367.34 1061.6 1381.6C1061.32 1395.84 1059.75 1413.37 1061.6 1424.3C1062.81 1431.44 1064.02 1437.19 1067.6 1441.5C1071.08 1445.68 1076.96 1447.47 1082.5 1450C1088.87 1452.91 1096.97 1454.94 1103.9 1457.5C1110.52 1459.95 1123.25 1462.9 1123.2 1465C1123.16 1466.7 1114.91 1467.82 1110.3 1469.3C1105.01 1471 1098.68 1472.76 1093.2 1474.6C1088.04 1476.33 1082.07 1477.62 1078.3 1480C1075.44 1481.8 1073.51 1483.92 1071.8 1486.4C1070.06 1488.91 1069.27 1492.13 1068 1495" stroke="#d62728" stroke-width="4.0" stroke-dasharray="4.1 6.6"/>
<path d="M950 1316C960.67 1318.6 970.56 1320.98 982 1323.8C995.24 1327.07 1011.57 1331.07 1024.8 1334.5C1036.28 1337.47 1050.1 1339.91 1056.9 1343.1C1060.48 1344.78 1062.76 1345.24 1064.4 1348.4C1067.52 1354.42 1064.5 1369.84 1064.4 1381.6C1064.29 1394.94 1062.65 1412.9 1063.7 1424.3C1064.41 1432.04 1064.46 1438.25 1067.6 1443.6C1070.73 1448.95 1076.93 1452.87 1082.5 1456.4C1088.28 1460.06 1096.74 1462.31 1101.8 1465C1105.28 1466.85 1110.29 1468.52 1110.3 1470.3C1110.31 1472.09 1105.27 1474.21 1101.8 1475.7C1097.21 1477.67 1089.61 1477.97 1084.7 1480C1080.57 1481.71 1076.48 1483.65 1074 1486.4C1071.84 1488.8 1071.33 1492.13 1070 1495" stroke="#9467bd" stroke-width="3.0" stroke-linecap="square"/>
</g>
<path d="M253.6 -0.6V19.8M253.6 671.65V692.05M401.6 -0.6V19.8M401.6 671.65V692.05M125 579.99H145.4M509.8 579.99H530.2M125 376.28H145.4M509.8 376.28H530.2M125 172.57H145.4M509.8 172.57H530.2" stroke="#000" stroke-width="3.2" fill="none"/>
<path d="M179.6 4.5V14.7M179.6 676.75V686.95M327.6 4.5V14.7M327.6 676.75V686.95M475.6 4.5V14.7M475.6 676.75V686.95M130.1 661.48H140.3M514.9 661.48H525.1M130.1 620.74H140.3M514.9 620.74H525.1M130.1 539.25H140.3M514.9 539.25H525.1M130.1 498.51H140.3M514.9 498.51H525.1M130.1 457.77H140.3M514.9 457.77H525.1M130.1 417.02H140.3M514.9 417.02H525.1M130.1 335.54H140.3M514.9 335.54H525.1M130.1 294.8H140.3M514.9 294.8H525.1M130.1 254.05H140.3M514.9 254.05H525.1M130.1 213.31H140.3M514.9 213.31H525.1M130.1 131.83H140.3M514.9 131.83H525.1M130.1 91.08H140.3M514.9 91.08H525.1M130.1 50.34H140.3M514.9 50.34H525.1M130.1 9.6H140.3M514.9 9.6H525.1" stroke="#000" stroke-width="2.5" fill="none"/>
<rect x="135.2" y="9.6" width="384.8" height="672.25" fill="none" stroke="#000" stroke-width="3.25" stroke-linejoin="miter"/>
<text x="253.6" y="727" text-anchor="middle">100</text>
<text x="401.6" y="727" text-anchor="middle">150</text>
<text x="110.9" y="589.99" text-anchor="end">100</text>
<text x="110.9" y="386.28" text-anchor="end">200</text>
<text x="110.9" y="182.57" text-anchor="end">300</text>
<text transform="translate(25.5 345.73) rotate(-90)" text-anchor="middle">altitude [km]</text>
<text x="150.2" y="66.2" font-weight="bold" font-size="44.0">(a)</text>
<path d="M558.55 -0.6V19.8M558.55 671.65V692.05M702.85 -0.6V19.8M702.85 671.65V692.05M847.15 -0.6V19.8M847.15 671.65V692.05M548.35 579.99H568.75M933.15 579.99H953.55M548.35 376.28H568.75M933.15 376.28H953.55M548.35 172.57H568.75M933.15 172.57H953.55" stroke="#000" stroke-width="3.2" fill="none"/>
<path d="M606.65 4.5V14.7M606.65 676.75V686.95M654.75 4.5V14.7M654.75 676.75V686.95M750.95 4.5V14.7M750.95 676.75V686.95M799.05 4.5V14.7M799.05 676.75V686.95M895.25 4.5V14.7M895.25 676.75V686.95M943.35 4.5V14.7M943.35 676.75V686.95M553.45 661.48H563.65M938.25 661.48H948.45M553.45 620.74H563.65M938.25 620.74H948.45M553.45 539.25H563.65M938.25 539.25H948.45M553.45 498.51H563.65M938.25 498.51H948.45M553.45 457.77H563.65M938.25 457.77H948.45M553.45 417.02H563.65M938.25 417.02H948.45M553.45 335.54H563.65M938.25 335.54H948.45M553.45 294.8H563.65M938.25 294.8H948.45M553.45 254.05H563.65M938.25 254.05H948.45M553.45 213.31H563.65M938.25 213.31H948.45M553.45 131.83H563.65M938.25 131.83H948.45M553.45 91.08H563.65M938.25 91.08H948.45M553.45 50.34H563.65M938.25 50.34H948.45M553.45 9.6H563.65M938.25 9.6H948.45" stroke="#000" stroke-width="2.5" fill="none"/>
<rect x="558.55" y="9.6" width="384.8" height="672.25" fill="none" stroke="#000" stroke-width="3.25" stroke-linejoin="miter"/>
<text x="510.9" y="732.8">10<tspan dx="0.9" dy="-12.4" font-size="23.52">−12</tspan></text>
<text x="662.69" y="732.8">10<tspan dx="0.9" dy="-12.4" font-size="23.52">−9</tspan></text>
<text x="806.99" y="732.8">10<tspan dx="0.9" dy="-12.4" font-size="23.52">−6</tspan></text>
<text x="573.55" y="66.2" font-weight="bold" font-size="44.0">(b)</text>
<path d="M981.9 -0.6V19.8M981.9 671.65V692.05M1152.92 -0.6V19.8M1152.92 671.65V692.05M1323.94 -0.6V19.8M1323.94 671.65V692.05M971.7 579.99H992.1M1356.5 579.99H1376.9M971.7 376.28H992.1M1356.5 376.28H1376.9M971.7 172.57H992.1M1356.5 172.57H1376.9" stroke="#000" stroke-width="3.2" fill="none"/>
<path d="M1024.66 4.5V14.7M1024.66 676.75V686.95M1067.41 4.5V14.7M1067.41 676.75V686.95M1110.17 4.5V14.7M1110.17 676.75V686.95M1195.68 4.5V14.7M1195.68 676.75V686.95M1238.43 4.5V14.7M1238.43 676.75V686.95M1281.19 4.5V14.7M1281.19 676.75V686.95M1366.7 4.5V14.7M1366.7 676.75V686.95M976.8 661.48H987M1361.6 661.48H1371.8M976.8 620.74H987M1361.6 620.74H1371.8M976.8 539.25H987M1361.6 539.25H1371.8M976.8 498.51H987M1361.6 498.51H1371.8M976.8 457.77H987M1361.6 457.77H1371.8M976.8 417.02H987M1361.6 417.02H1371.8M976.8 335.54H987M1361.6 335.54H1371.8M976.8 294.8H987M1361.6 294.8H1371.8M976.8 254.05H987M1361.6 254.05H1371.8M976.8 213.31H987M1361.6 213.31H1371.8M976.8 131.83H987M1361.6 131.83H1371.8M976.8 91.08H987M1361.6 91.08H1371.8M976.8 50.34H987M1361.6 50.34H1371.8M976.8 9.6H987M1361.6 9.6H1371.8" stroke="#000" stroke-width="2.5" fill="none"/>
<rect x="981.9" y="9.6" width="384.8" height="672.25" fill="none" stroke="#000" stroke-width="3.25" stroke-linejoin="miter"/>
<text x="951.59" y="732.8">10<tspan dx="0.9" dy="-12.4" font-size="23.52">0</tspan></text>
<text x="1122.61" y="732.8">10<tspan dx="0.9" dy="-12.4" font-size="23.52">4</tspan></text>
<text x="1293.63" y="732.8">10<tspan dx="0.9" dy="-12.4" font-size="23.52">8</tspan></text>
<text x="996.9" y="66.2" font-weight="bold" font-size="44.0">(c)</text>
<path d="M1469.38 -0.6V19.8M1469.38 671.65V692.05M1597.65 -0.6V19.8M1597.65 671.65V692.05M1725.92 -0.6V19.8M1725.92 671.65V692.05M1395.05 579.99H1415.45M1779.85 579.99H1800.25M1395.05 376.28H1415.45M1779.85 376.28H1800.25M1395.05 172.57H1415.45M1779.85 172.57H1800.25" stroke="#000" stroke-width="3.2" fill="none"/>
<path d="M1405.25 4.5V14.7M1405.25 676.75V686.95M1533.52 4.5V14.7M1533.52 676.75V686.95M1661.78 4.5V14.7M1661.78 676.75V686.95M1790.05 4.5V14.7M1790.05 676.75V686.95M1400.15 661.48H1410.35M1784.95 661.48H1795.15M1400.15 620.74H1410.35M1784.95 620.74H1795.15M1400.15 539.25H1410.35M1784.95 539.25H1795.15M1400.15 498.51H1410.35M1784.95 498.51H1795.15M1400.15 457.77H1410.35M1784.95 457.77H1795.15M1400.15 417.02H1410.35M1784.95 417.02H1795.15M1400.15 335.54H1410.35M1784.95 335.54H1795.15M1400.15 294.8H1410.35M1784.95 294.8H1795.15M1400.15 254.05H1410.35M1784.95 254.05H1795.15M1400.15 213.31H1410.35M1784.95 213.31H1795.15M1400.15 131.83H1410.35M1784.95 131.83H1795.15M1400.15 91.08H1410.35M1784.95 91.08H1795.15M1400.15 50.34H1410.35M1784.95 50.34H1795.15M1400.15 9.6H1410.35M1784.95 9.6H1795.15" stroke="#000" stroke-width="2.5" fill="none"/>
<rect x="1405.25" y="9.6" width="384.8" height="672.25" fill="none" stroke="#000" stroke-width="3.25" stroke-linejoin="miter"/>
<text x="1421.74" y="732.8">10<tspan dx="0.9" dy="-12.4" font-size="23.52">−10</tspan></text>
<text x="1557.49" y="732.8">10<tspan dx="0.9" dy="-12.4" font-size="23.52">−8</tspan></text>
<text x="1685.75" y="732.8">10<tspan dx="0.9" dy="-12.4" font-size="23.52">−6</tspan></text>
<text x="1420.25" y="66.2" font-weight="bold" font-size="44.0">(d)</text>
<path d="M135.2 805.65V826.05M135.2 1477.9V1498.3M289.12 805.65V826.05M289.12 1477.9V1498.3M443.04 805.65V826.05M443.04 1477.9V1498.3M125 1386.24H145.4M509.8 1386.24H530.2M125 1182.53H145.4M509.8 1182.53H530.2M125 978.82H145.4M509.8 978.82H530.2" stroke="#000" stroke-width="3.2" fill="none"/>
<path d="M212.16 810.75V820.95M212.16 1483V1493.2M366.08 810.75V820.95M366.08 1483V1493.2M520 810.75V820.95M520 1483V1493.2M130.1 1467.73H140.3M514.9 1467.73H525.1M130.1 1426.99H140.3M514.9 1426.99H525.1M130.1 1345.5H140.3M514.9 1345.5H525.1M130.1 1304.76H140.3M514.9 1304.76H525.1M130.1 1264.02H140.3M514.9 1264.02H525.1M130.1 1223.27H140.3M514.9 1223.27H525.1M130.1 1141.79H140.3M514.9 1141.79H525.1M130.1 1101.05H140.3M514.9 1101.05H525.1M130.1 1060.3H140.3M514.9 1060.3H525.1M130.1 1019.56H140.3M514.9 1019.56H525.1M130.1 938.08H140.3M514.9 938.08H525.1M130.1 897.33H140.3M514.9 897.33H525.1M130.1 856.59H140.3M514.9 856.59H525.1M130.1 815.85H140.3M514.9 815.85H525.1" stroke="#000" stroke-width="2.5" fill="none"/>
<rect x="135.2" y="815.85" width="384.8" height="672.25" fill="none" stroke="#000" stroke-width="3.25" stroke-linejoin="miter"/>
<text x="135.2" y="1533.25" text-anchor="middle">0</text>
<text x="289.12" y="1533.25" text-anchor="middle">10</text>
<text x="443.04" y="1533.25" text-anchor="middle">20</text>
<text x="110.9" y="1396.24" text-anchor="end">100</text>
<text x="110.9" y="1192.53" text-anchor="end">200</text>
<text x="110.9" y="988.82" text-anchor="end">300</text>
<text transform="translate(25.5 1151.97) rotate(-90)" text-anchor="middle">altitude [km]</text>
<text x="150.2" y="872.45" font-weight="bold" font-size="44.0">(e)</text>
<path d="M558.55 805.65V826.05M558.55 1477.9V1498.3M750.95 805.65V826.05M750.95 1477.9V1498.3M943.35 805.65V826.05M943.35 1477.9V1498.3M548.35 1386.24H568.75M933.15 1386.24H953.55M548.35 1182.53H568.75M933.15 1182.53H953.55M548.35 978.82H568.75M933.15 978.82H953.55" stroke="#000" stroke-width="3.2" fill="none"/>
<path d="M654.75 810.75V820.95M654.75 1483V1493.2M847.15 810.75V820.95M847.15 1483V1493.2M553.45 1467.73H563.65M938.25 1467.73H948.45M553.45 1426.99H563.65M938.25 1426.99H948.45M553.45 1345.5H563.65M938.25 1345.5H948.45M553.45 1304.76H563.65M938.25 1304.76H948.45M553.45 1264.02H563.65M938.25 1264.02H948.45M553.45 1223.27H563.65M938.25 1223.27H948.45M553.45 1141.79H563.65M938.25 1141.79H948.45M553.45 1101.05H563.65M938.25 1101.05H948.45M553.45 1060.3H563.65M938.25 1060.3H948.45M553.45 1019.56H563.65M938.25 1019.56H948.45M553.45 938.08H563.65M938.25 938.08H948.45M553.45 897.33H563.65M938.25 897.33H948.45M553.45 856.59H563.65M938.25 856.59H948.45M553.45 815.85H563.65M938.25 815.85H948.45" stroke="#000" stroke-width="2.5" fill="none"/>
<rect x="558.55" y="815.85" width="384.8" height="672.25" fill="none" stroke="#000" stroke-width="3.25" stroke-linejoin="miter"/>
<text x="518.39" y="1539.05">10<tspan dx="0.9" dy="-12.4" font-size="23.52">−9</tspan></text>
<text x="710.79" y="1539.05">10<tspan dx="0.9" dy="-12.4" font-size="23.52">−7</tspan></text>
<text x="903.19" y="1539.05">10<tspan dx="0.9" dy="-12.4" font-size="23.52">−5</tspan></text>
<text x="573.55" y="872.45" font-weight="bold" font-size="44.0">(f)</text>
<path d="M1058.86 805.65V826.05M1058.86 1477.9V1498.3M1212.78 805.65V826.05M1212.78 1477.9V1498.3M1366.7 805.65V826.05M1366.7 1477.9V1498.3M971.7 1386.24H992.1M1356.5 1386.24H1376.9M971.7 1182.53H992.1M1356.5 1182.53H1376.9M971.7 978.82H992.1M1356.5 978.82H1376.9" stroke="#000" stroke-width="3.2" fill="none"/>
<path d="M981.9 810.75V820.95M981.9 1483V1493.2M1135.82 810.75V820.95M1135.82 1483V1493.2M1289.74 810.75V820.95M1289.74 1483V1493.2M976.8 1467.73H987M1361.6 1467.73H1371.8M976.8 1426.99H987M1361.6 1426.99H1371.8M976.8 1345.5H987M1361.6 1345.5H1371.8M976.8 1304.76H987M1361.6 1304.76H1371.8M976.8 1264.02H987M1361.6 1264.02H1371.8M976.8 1223.27H987M1361.6 1223.27H1371.8M976.8 1141.79H987M1361.6 1141.79H1371.8M976.8 1101.05H987M1361.6 1101.05H1371.8M976.8 1060.3H987M1361.6 1060.3H1371.8M976.8 1019.56H987M1361.6 1019.56H1371.8M976.8 938.08H987M1361.6 938.08H1371.8M976.8 897.33H987M1361.6 897.33H1371.8M976.8 856.59H987M1361.6 856.59H1371.8M976.8 815.85H987M1361.6 815.85H1371.8" stroke="#000" stroke-width="2.5" fill="none"/>
<rect x="981.9" y="815.85" width="384.8" height="672.25" fill="none" stroke="#000" stroke-width="3.25" stroke-linejoin="miter"/>
<text x="1058.86" y="1533.25" text-anchor="middle">0</text>
<text x="1212.78" y="1533.25" text-anchor="middle">1</text>
<text x="1366.7" y="1533.25" text-anchor="middle">2</text>
<text x="996.9" y="872.45" font-weight="bold" font-size="44.0">(g)</text>
<text x="327.6" y="778" text-anchor="middle">temperature [K]</text>
<text x="722.7" y="780.5"><tspan font-style="italic">q</tspan><tspan font-style="italic" font-size="23.52" dy="5.3">mr</tspan></text>
<text x="1084.7" y="787"><tspan>N</tspan><tspan font-style="italic" font-size="23.52" dy="5.5" dx="-0.5">mr</tspan><tspan dy="-5.5" dx="2.3"> [kg</tspan><tspan font-size="23.52" dy="-12.2">−</tspan><tspan font-size="23.52">1</tspan><tspan dy="12.2">]</tspan></text>
<text x="1563.6" y="780"><tspan>m</tspan><tspan font-style="italic" font-size="23.52" dy="5.3">mr</tspan></text>
<text x="255.9" y="1584.6"><tspan font-style="italic">r</tspan><tspan font-style="italic" font-size="23.52" dy="5.8">eff</tspan><tspan dy="-5.8" dx="2.2"> [</tspan><tspan font-style="italic">μ</tspan><tspan>m]</tspan></text>
<text x="677.6" y="1593.4"><tspan font-style="italic">β</tspan><tspan font-style="italic" font-size="23.52" dy="5.4">E</tspan><tspan dy="-5.4" dx="2.6"> [m</tspan><tspan font-size="23.52" dy="-12.8">−</tspan><tspan font-size="23.52">1</tspan><tspan dy="12.8">]</tspan></text>
<text x="1160.2" y="1582.3"><tspan font-style="italic">s</tspan><tspan font-style="italic" font-size="23.52" dy="5.4">i</tspan></text>
<rect x="1466.2" y="989.9" width="262.6" height="324.6" rx="6.7" ry="6.7" fill="#fff" fill-opacity="0.8" stroke="#333" stroke-width="4"/>
<path d="M1479.6 1018.9 L1545.9 1018.9" stroke="#1f77b4" stroke-width="3.0" stroke-dasharray="11.7 4.9"/>
<text x="1573" y="1027.9">L<tspan font-style="italic" font-size="23.52" dy="5.4">s</tspan><tspan dy="-5.4" dx="2.1"> = 24°</tspan></text>
<path d="M1479.6 1071.5 L1545.9 1071.5" stroke="#000000" stroke-width="5.0" stroke-linecap="square"/>
<text x="1573" y="1080.5">L<tspan font-style="italic" font-size="23.52" dy="5.4">s</tspan><tspan dy="-5.4" dx="2.1"> = 30°</tspan></text>
<path d="M1479.6 1124.1 L1545.9 1124.1" stroke="#ff7f0e" stroke-width="4.0" stroke-dasharray="15.1 6.2"/>
<text x="1573" y="1133.1">L<tspan font-style="italic" font-size="23.52" dy="5.4">s</tspan><tspan dy="-5.4" dx="2.1"> = 36°</tspan></text>
<path d="M1479.6 1176.5 L1545.9 1176.5" stroke="#2ca02c" stroke-width="4.0" stroke-dasharray="25.6 6.5 4.1 6.5"/>
<text x="1573" y="1185.5">L<tspan font-style="italic" font-size="23.52" dy="5.4">s</tspan><tspan dy="-5.4" dx="2.1"> = 45°</tspan></text>
<path d="M1479.6 1228.6 L1545.9 1228.6" stroke="#d62728" stroke-width="4.0" stroke-dasharray="4.1 6.6"/>
<text x="1573" y="1237.6">L<tspan font-style="italic" font-size="23.52" dy="5.4">s</tspan><tspan dy="-5.4" dx="2.1"> = 65°</tspan></text>
<path d="M1479.6 1281 L1545.9 1281" stroke="#9467bd" stroke-width="3.0" stroke-linecap="square"/>
<text x="1573" y="1290">L<tspan font-style="italic" font-size="23.52" dy="5.4">s</tspan><tspan dy="-5.4" dx="2.1"> = 90°</tspan></text>
</g></svg></body></html>
